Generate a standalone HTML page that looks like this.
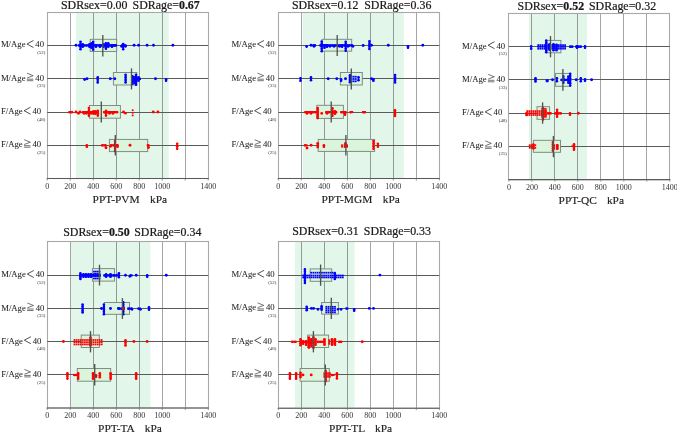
<!DOCTYPE html>
<html><head><meta charset="utf-8"><style>
html,body{margin:0;padding:0;background:#fff;width:677px;height:434px;overflow:hidden}
svg text{font-family:"Liberation Serif", serif}
svg{will-change:transform}
</style></head><body>
<svg width="677" height="434" viewBox="0 0 677 434" style="display:block">
<rect x="0" y="0" width="677" height="434" fill="#ffffff"/>
<g><rect x="76.00" y="12.50" width="92.70" height="166.00" fill="#e2f7ea"/><line x1="70.50" y1="12.50" x2="70.50" y2="178.50" stroke="#a6a6a6" stroke-width="1.0"/><line x1="93.50" y1="12.50" x2="93.50" y2="178.50" stroke="#919b95" stroke-width="1.0"/><line x1="116.50" y1="12.50" x2="116.50" y2="178.50" stroke="#919b95" stroke-width="1.0"/><line x1="139.50" y1="12.50" x2="139.50" y2="178.50" stroke="#919b95" stroke-width="1.0"/><line x1="162.50" y1="12.50" x2="162.50" y2="178.50" stroke="#919b95" stroke-width="1.0"/><line x1="185.50" y1="12.50" x2="185.50" y2="178.50" stroke="#a6a6a6" stroke-width="1.0"/><rect x="47.50" y="12.50" width="161.00" height="166.00" fill="none" stroke="#a8a8a8" stroke-width="1.1"/><line x1="47.20" y1="45.50" x2="208.20" y2="45.50" stroke="#585b59" stroke-width="1"/><line x1="47.20" y1="78.50" x2="208.20" y2="78.50" stroke="#585b59" stroke-width="1"/><line x1="47.20" y1="112.50" x2="208.20" y2="112.50" stroke="#585b59" stroke-width="1"/><line x1="47.20" y1="145.50" x2="208.20" y2="145.50" stroke="#585b59" stroke-width="1"/><line x1="46.70" y1="178.50" x2="208.70" y2="178.50" stroke="#5a5a5a" stroke-width="1.15"/><line x1="47.20" y1="178.50" x2="47.20" y2="180.50" stroke="#777" stroke-width="0.8"/><line x1="70.20" y1="178.50" x2="70.20" y2="180.50" stroke="#777" stroke-width="0.8"/><line x1="93.20" y1="178.50" x2="93.20" y2="180.50" stroke="#777" stroke-width="0.8"/><line x1="116.20" y1="178.50" x2="116.20" y2="180.50" stroke="#777" stroke-width="0.8"/><line x1="139.20" y1="178.50" x2="139.20" y2="180.50" stroke="#777" stroke-width="0.8"/><line x1="162.20" y1="178.50" x2="162.20" y2="180.50" stroke="#777" stroke-width="0.8"/><line x1="185.20" y1="178.50" x2="185.20" y2="180.50" stroke="#777" stroke-width="0.8"/><line x1="208.20" y1="178.50" x2="208.20" y2="180.50" stroke="#777" stroke-width="0.8"/><text x="47.20" y="188.70" font-size="8" text-anchor="middle" fill="#333">0</text><text x="70.20" y="188.70" font-size="8" text-anchor="middle" fill="#333">200</text><text x="93.20" y="188.70" font-size="8" text-anchor="middle" fill="#333">400</text><text x="116.20" y="188.70" font-size="8" text-anchor="middle" fill="#333">600</text><text x="139.20" y="188.70" font-size="8" text-anchor="middle" fill="#333">800</text><text x="162.20" y="188.70" font-size="8" text-anchor="middle" fill="#333">1000</text><text x="208.20" y="188.70" font-size="8" text-anchor="middle" fill="#333">1400</text><rect x="90.20" y="39.30" width="26.50" height="12.20" fill="#daf5db" stroke="#7b887f" stroke-width="0.95"/><circle cx="76.00" cy="45.30" r="1.45" fill="#0000ff"/><rect x="78.00" y="44.30" width="39.00" height="2.1" fill="#0000ff"/><circle cx="79.20" cy="45.50" r="1.2" fill="#0000ff"/><circle cx="81.64" cy="45.50" r="1.2" fill="#0000ff"/><circle cx="84.08" cy="45.50" r="1.2" fill="#0000ff"/><circle cx="86.52" cy="45.50" r="1.2" fill="#0000ff"/><circle cx="88.96" cy="45.50" r="1.2" fill="#0000ff"/><circle cx="91.40" cy="45.50" r="1.2" fill="#0000ff"/><circle cx="93.84" cy="45.50" r="1.2" fill="#0000ff"/><circle cx="96.28" cy="45.50" r="1.2" fill="#0000ff"/><circle cx="98.72" cy="45.50" r="1.2" fill="#0000ff"/><circle cx="101.16" cy="45.50" r="1.2" fill="#0000ff"/><circle cx="103.60" cy="45.50" r="1.2" fill="#0000ff"/><circle cx="106.04" cy="45.50" r="1.2" fill="#0000ff"/><circle cx="108.48" cy="45.50" r="1.2" fill="#0000ff"/><circle cx="110.92" cy="45.50" r="1.2" fill="#0000ff"/><circle cx="113.36" cy="45.50" r="1.2" fill="#0000ff"/><circle cx="115.80" cy="45.50" r="1.2" fill="#0000ff"/><rect x="79.70" y="41.10" width="1.6" height="8.80" fill="#0000ff"/><circle cx="80.50" cy="41.70" r="1.3" fill="#0000ff"/><circle cx="80.50" cy="44.23" r="1.3" fill="#0000ff"/><circle cx="80.50" cy="46.77" r="1.3" fill="#0000ff"/><circle cx="80.50" cy="49.30" r="1.3" fill="#0000ff"/><rect x="81.90" y="43.60" width="1.6" height="3.80" fill="#0000ff"/><circle cx="82.70" cy="44.20" r="1.3" fill="#0000ff"/><circle cx="82.70" cy="46.80" r="1.3" fill="#0000ff"/><rect x="88.70" y="43.60" width="1.6" height="3.80" fill="#0000ff"/><circle cx="89.50" cy="44.20" r="1.3" fill="#0000ff"/><circle cx="89.50" cy="46.80" r="1.3" fill="#0000ff"/><rect x="90.70" y="42.60" width="1.6" height="5.80" fill="#0000ff"/><circle cx="91.50" cy="43.20" r="1.3" fill="#0000ff"/><circle cx="91.50" cy="45.50" r="1.3" fill="#0000ff"/><circle cx="91.50" cy="47.80" r="1.3" fill="#0000ff"/><rect x="92.40" y="41.10" width="1.6" height="9.30" fill="#0000ff"/><circle cx="93.20" cy="41.70" r="1.3" fill="#0000ff"/><circle cx="93.20" cy="43.73" r="1.3" fill="#0000ff"/><circle cx="93.20" cy="45.75" r="1.3" fill="#0000ff"/><circle cx="93.20" cy="47.78" r="1.3" fill="#0000ff"/><circle cx="93.20" cy="49.80" r="1.3" fill="#0000ff"/><rect x="95.20" y="44.60" width="1.6" height="2.80" fill="#0000ff"/><circle cx="96.00" cy="45.20" r="1.3" fill="#0000ff"/><circle cx="96.00" cy="46.80" r="1.3" fill="#0000ff"/><rect x="99.20" y="44.60" width="1.6" height="2.80" fill="#0000ff"/><circle cx="100.00" cy="45.20" r="1.3" fill="#0000ff"/><circle cx="100.00" cy="46.80" r="1.3" fill="#0000ff"/><rect x="102.70" y="43.60" width="1.6" height="3.80" fill="#0000ff"/><circle cx="103.50" cy="44.20" r="1.3" fill="#0000ff"/><circle cx="103.50" cy="46.80" r="1.3" fill="#0000ff"/><rect x="105.10" y="42.60" width="1.6" height="6.80" fill="#0000ff"/><circle cx="105.90" cy="43.20" r="1.3" fill="#0000ff"/><circle cx="105.90" cy="45.07" r="1.3" fill="#0000ff"/><circle cx="105.90" cy="46.93" r="1.3" fill="#0000ff"/><circle cx="105.90" cy="48.80" r="1.3" fill="#0000ff"/><rect x="107.50" y="42.60" width="1.6" height="4.80" fill="#0000ff"/><circle cx="108.30" cy="43.20" r="1.3" fill="#0000ff"/><circle cx="108.30" cy="45.00" r="1.3" fill="#0000ff"/><circle cx="108.30" cy="46.80" r="1.3" fill="#0000ff"/><rect x="111.20" y="44.60" width="1.6" height="2.80" fill="#0000ff"/><circle cx="112.00" cy="45.20" r="1.3" fill="#0000ff"/><circle cx="112.00" cy="46.80" r="1.3" fill="#0000ff"/><rect x="113.70" y="44.60" width="1.6" height="1.80" fill="#0000ff"/><circle cx="114.50" cy="45.20" r="1.3" fill="#0000ff"/><rect x="121.00" y="44.30" width="5.40" height="2.1" fill="#0000ff"/><circle cx="122.20" cy="45.50" r="1.2" fill="#0000ff"/><circle cx="125.20" cy="45.50" r="1.2" fill="#0000ff"/><rect x="122.40" y="43.40" width="1.6" height="6.50" fill="#0000ff"/><circle cx="123.20" cy="44.00" r="1.3" fill="#0000ff"/><circle cx="123.20" cy="46.65" r="1.3" fill="#0000ff"/><circle cx="123.20" cy="49.30" r="1.3" fill="#0000ff"/><rect x="120.70" y="45.60" width="1.6" height="1.80" fill="#0000ff"/><circle cx="121.50" cy="46.20" r="1.3" fill="#0000ff"/><rect x="124.70" y="45.60" width="1.6" height="1.80" fill="#0000ff"/><circle cx="125.50" cy="46.20" r="1.3" fill="#0000ff"/><circle cx="134.10" cy="45.30" r="1.45" fill="#0000ff"/><circle cx="138.60" cy="45.30" r="1.45" fill="#0000ff"/><circle cx="147.10" cy="45.30" r="1.45" fill="#0000ff"/><circle cx="153.50" cy="45.30" r="1.45" fill="#0000ff"/><circle cx="172.90" cy="45.30" r="1.45" fill="#0000ff"/><line x1="102.80" y1="35.10" x2="102.80" y2="56.40" stroke="#4f5450" stroke-width="1.35"/><rect x="113.40" y="72.50" width="23.40" height="12.50" fill="#daf5db" stroke="#7b887f" stroke-width="0.95"/><rect x="83.80" y="78.60" width="1.6" height="2.30" fill="#0000ff"/><circle cx="84.60" cy="79.20" r="1.3" fill="#0000ff"/><circle cx="87.00" cy="78.70" r="1.45" fill="#0000ff"/><rect x="96.90" y="76.70" width="1.6" height="6.30" fill="#0000ff"/><circle cx="97.70" cy="77.30" r="1.3" fill="#0000ff"/><circle cx="97.70" cy="79.85" r="1.3" fill="#0000ff"/><circle cx="97.70" cy="82.40" r="1.3" fill="#0000ff"/><circle cx="110.30" cy="78.70" r="1.45" fill="#0000ff"/><circle cx="114.80" cy="78.70" r="1.45" fill="#0000ff"/><rect x="124.80" y="74.30" width="1.6" height="8.70" fill="#0000ff"/><circle cx="125.60" cy="74.90" r="1.3" fill="#0000ff"/><circle cx="125.60" cy="77.40" r="1.3" fill="#0000ff"/><circle cx="125.60" cy="79.90" r="1.3" fill="#0000ff"/><circle cx="125.60" cy="82.40" r="1.3" fill="#0000ff"/><rect x="131.00" y="77.70" width="10.00" height="2.1" fill="#0000ff"/><circle cx="132.20" cy="78.90" r="1.2" fill="#0000ff"/><circle cx="134.73" cy="78.90" r="1.2" fill="#0000ff"/><circle cx="137.27" cy="78.90" r="1.2" fill="#0000ff"/><circle cx="139.80" cy="78.90" r="1.2" fill="#0000ff"/><rect x="131.70" y="75.60" width="1.6" height="8.80" fill="#0000ff"/><circle cx="132.50" cy="76.20" r="1.3" fill="#0000ff"/><circle cx="132.50" cy="78.73" r="1.3" fill="#0000ff"/><circle cx="132.50" cy="81.27" r="1.3" fill="#0000ff"/><circle cx="132.50" cy="83.80" r="1.3" fill="#0000ff"/><rect x="133.70" y="76.60" width="1.6" height="6.80" fill="#0000ff"/><circle cx="134.50" cy="77.20" r="1.3" fill="#0000ff"/><circle cx="134.50" cy="79.07" r="1.3" fill="#0000ff"/><circle cx="134.50" cy="80.93" r="1.3" fill="#0000ff"/><circle cx="134.50" cy="82.80" r="1.3" fill="#0000ff"/><rect x="135.20" y="74.10" width="1.6" height="11.30" fill="#0000ff"/><circle cx="136.00" cy="74.70" r="1.3" fill="#0000ff"/><circle cx="136.00" cy="76.72" r="1.3" fill="#0000ff"/><circle cx="136.00" cy="78.74" r="1.3" fill="#0000ff"/><circle cx="136.00" cy="80.76" r="1.3" fill="#0000ff"/><circle cx="136.00" cy="82.78" r="1.3" fill="#0000ff"/><circle cx="136.00" cy="84.80" r="1.3" fill="#0000ff"/><rect x="137.70" y="76.60" width="1.6" height="4.80" fill="#0000ff"/><circle cx="138.50" cy="77.20" r="1.3" fill="#0000ff"/><circle cx="138.50" cy="79.00" r="1.3" fill="#0000ff"/><circle cx="138.50" cy="80.80" r="1.3" fill="#0000ff"/><circle cx="155.50" cy="78.70" r="1.45" fill="#0000ff"/><rect x="165.30" y="78.60" width="1.6" height="2.80" fill="#0000ff"/><circle cx="166.10" cy="79.20" r="1.3" fill="#0000ff"/><circle cx="166.10" cy="80.80" r="1.3" fill="#0000ff"/><line x1="131.50" y1="68.40" x2="131.50" y2="89.40" stroke="#4f5450" stroke-width="1.35"/><rect x="89.40" y="105.50" width="31.00" height="12.70" fill="#daf5db" stroke="#7b887f" stroke-width="0.95"/><rect x="68.50" y="111.00" width="4.50" height="2.1" fill="#ff0000"/><circle cx="69.70" cy="112.20" r="1.2" fill="#ff0000"/><circle cx="71.80" cy="112.20" r="1.2" fill="#ff0000"/><circle cx="76.00" cy="112.00" r="1.45" fill="#ff0000"/><rect x="77.70" y="112.60" width="1.6" height="1.80" fill="#ff0000"/><circle cx="78.50" cy="113.20" r="1.3" fill="#ff0000"/><circle cx="80.00" cy="112.00" r="1.45" fill="#ff0000"/><rect x="81.80" y="111.00" width="16.90" height="2.1" fill="#ff0000"/><circle cx="83.00" cy="112.20" r="1.2" fill="#ff0000"/><circle cx="85.42" cy="112.20" r="1.2" fill="#ff0000"/><circle cx="87.83" cy="112.20" r="1.2" fill="#ff0000"/><circle cx="90.25" cy="112.20" r="1.2" fill="#ff0000"/><circle cx="92.67" cy="112.20" r="1.2" fill="#ff0000"/><circle cx="95.08" cy="112.20" r="1.2" fill="#ff0000"/><circle cx="97.50" cy="112.20" r="1.2" fill="#ff0000"/><rect x="83.20" y="112.60" width="1.6" height="1.80" fill="#ff0000"/><circle cx="84.00" cy="113.20" r="1.3" fill="#ff0000"/><rect x="85.70" y="112.60" width="1.6" height="1.80" fill="#ff0000"/><circle cx="86.50" cy="113.20" r="1.3" fill="#ff0000"/><rect x="88.10" y="107.50" width="1.6" height="8.90" fill="#ff0000"/><circle cx="88.90" cy="108.10" r="1.3" fill="#ff0000"/><circle cx="88.90" cy="110.67" r="1.3" fill="#ff0000"/><circle cx="88.90" cy="113.23" r="1.3" fill="#ff0000"/><circle cx="88.90" cy="115.80" r="1.3" fill="#ff0000"/><rect x="90.20" y="112.60" width="1.6" height="1.80" fill="#ff0000"/><circle cx="91.00" cy="113.20" r="1.3" fill="#ff0000"/><rect x="92.70" y="110.60" width="1.6" height="3.80" fill="#ff0000"/><circle cx="93.50" cy="111.20" r="1.3" fill="#ff0000"/><circle cx="93.50" cy="113.80" r="1.3" fill="#ff0000"/><rect x="94.70" y="110.60" width="1.6" height="3.80" fill="#ff0000"/><circle cx="95.50" cy="111.20" r="1.3" fill="#ff0000"/><circle cx="95.50" cy="113.80" r="1.3" fill="#ff0000"/><rect x="97.00" y="110.10" width="1.6" height="6.10" fill="#ff0000"/><circle cx="97.80" cy="110.70" r="1.3" fill="#ff0000"/><circle cx="97.80" cy="113.15" r="1.3" fill="#ff0000"/><circle cx="97.80" cy="115.60" r="1.3" fill="#ff0000"/><rect x="103.10" y="111.00" width="15.10" height="2.1" fill="#ff0000"/><circle cx="104.30" cy="112.20" r="1.2" fill="#ff0000"/><circle cx="106.84" cy="112.20" r="1.2" fill="#ff0000"/><circle cx="109.38" cy="112.20" r="1.2" fill="#ff0000"/><circle cx="111.92" cy="112.20" r="1.2" fill="#ff0000"/><circle cx="114.46" cy="112.20" r="1.2" fill="#ff0000"/><circle cx="117.00" cy="112.20" r="1.2" fill="#ff0000"/><rect x="105.20" y="110.10" width="1.6" height="6.10" fill="#ff0000"/><circle cx="106.00" cy="110.70" r="1.3" fill="#ff0000"/><circle cx="106.00" cy="113.15" r="1.3" fill="#ff0000"/><circle cx="106.00" cy="115.60" r="1.3" fill="#ff0000"/><rect x="108.70" y="112.60" width="1.6" height="1.80" fill="#ff0000"/><circle cx="109.50" cy="113.20" r="1.3" fill="#ff0000"/><rect x="112.10" y="112.60" width="1.6" height="1.80" fill="#ff0000"/><circle cx="112.90" cy="113.20" r="1.3" fill="#ff0000"/><circle cx="123.50" cy="112.00" r="1.45" fill="#ff0000"/><rect x="124.70" y="112.60" width="1.6" height="1.30" fill="#ff0000"/><circle cx="125.50" cy="113.20" r="1.3" fill="#ff0000"/><rect x="131.82" y="109.33" width="1.75" height="1.75" fill="#ff0000"/><rect x="131.82" y="111.92" width="1.75" height="1.75" fill="#ff0000"/><rect x="131.82" y="114.52" width="1.75" height="1.75" fill="#ff0000"/><circle cx="153.20" cy="112.00" r="1.45" fill="#ff0000"/><circle cx="157.90" cy="112.00" r="1.45" fill="#ff0000"/><line x1="101.30" y1="101.40" x2="101.30" y2="122.40" stroke="#4f5450" stroke-width="1.35"/><rect x="109.40" y="139.40" width="38.30" height="12.20" fill="#daf5db" stroke="#7b887f" stroke-width="0.95"/><rect x="86.00" y="144.60" width="1.6" height="2.80" fill="#ff0000"/><circle cx="86.80" cy="145.20" r="1.3" fill="#ff0000"/><circle cx="86.80" cy="146.80" r="1.3" fill="#ff0000"/><rect x="101.20" y="144.20" width="5.30" height="2.1" fill="#ff0000"/><circle cx="102.40" cy="145.40" r="1.2" fill="#ff0000"/><circle cx="105.30" cy="145.40" r="1.2" fill="#ff0000"/><circle cx="106.00" cy="147.80" r="1.45" fill="#ff0000"/><rect x="109.70" y="145.60" width="1.6" height="1.80" fill="#ff0000"/><circle cx="110.50" cy="146.20" r="1.3" fill="#ff0000"/><rect x="110.00" y="144.20" width="8.00" height="2.1" fill="#ff0000"/><circle cx="111.20" cy="145.40" r="1.2" fill="#ff0000"/><circle cx="114.00" cy="145.40" r="1.2" fill="#ff0000"/><circle cx="116.80" cy="145.40" r="1.2" fill="#ff0000"/><rect x="114.30" y="140.50" width="1.6" height="11.20" fill="#ff0000"/><circle cx="115.10" cy="141.10" r="1.3" fill="#ff0000"/><circle cx="115.10" cy="143.10" r="1.3" fill="#ff0000"/><circle cx="115.10" cy="145.10" r="1.3" fill="#ff0000"/><circle cx="115.10" cy="147.10" r="1.3" fill="#ff0000"/><circle cx="115.10" cy="149.10" r="1.3" fill="#ff0000"/><circle cx="115.10" cy="151.10" r="1.3" fill="#ff0000"/><rect x="116.70" y="144.60" width="1.6" height="2.80" fill="#ff0000"/><circle cx="117.50" cy="145.20" r="1.3" fill="#ff0000"/><circle cx="117.50" cy="146.80" r="1.3" fill="#ff0000"/><circle cx="130.00" cy="145.20" r="1.45" fill="#ff0000"/><rect x="146.80" y="144.20" width="2.70" height="2.1" fill="#ff0000"/><circle cx="148.00" cy="145.40" r="1.2" fill="#ff0000"/><circle cx="148.50" cy="147.50" r="1.45" fill="#ff0000"/><rect x="176.40" y="143.10" width="1.6" height="6.30" fill="#ff0000"/><circle cx="177.20" cy="143.70" r="1.3" fill="#ff0000"/><circle cx="177.20" cy="146.25" r="1.3" fill="#ff0000"/><circle cx="177.20" cy="148.80" r="1.3" fill="#ff0000"/><line x1="115.30" y1="135.00" x2="115.30" y2="155.40" stroke="#4f5450" stroke-width="1.35"/><text x="61.0" y="9.3" font-size="11.9" fill="#1a1a1a" stroke="#1a1a1a" stroke-width="0.22">SDRsex=0.00</text><text x="132.6" y="9.3" font-size="11.9" fill="#1a1a1a" stroke="#1a1a1a" stroke-width="0.22">SDRage=<tspan font-weight="bold">0.67</tspan></text><text x="92.6" y="203.1" font-size="11.4" fill="#222" stroke="#222" stroke-width="0.15">PPT-PVM</text><text x="150.0" y="203.1" font-size="11.4" fill="#222" stroke="#222" stroke-width="0.15">kPa</text><text x="0.90" y="47.30" font-size="8.7" fill="#222" stroke="#333" stroke-width="0.05">M/Age</text><path d="M33.45,40.50 L26.95,44.00 L33.45,47.50" fill="none" stroke="#333" stroke-width="0.85"/><text x="35.35" y="47.30" font-size="8.7" fill="#222" stroke="#333" stroke-width="0.05">40</text><text x="45.30" y="54.00" font-size="4.9" text-anchor="end" fill="#333">(52)</text><text x="0.90" y="80.70" font-size="8.7" fill="#222" stroke="#333" stroke-width="0.05">M/Age</text><path d="M27.05,73.20 L33.15,75.70 L27.05,78.00" fill="none" stroke="#3a3a3a" stroke-width="0.7"/><path d="M26.85,79.20 H33.35 M26.85,80.70 H33.35" fill="none" stroke="#3a3a3a" stroke-width="0.7"/><text x="35.35" y="80.70" font-size="8.7" fill="#222" stroke="#333" stroke-width="0.05">40</text><text x="45.30" y="87.40" font-size="4.9" text-anchor="end" fill="#333">(33)</text><text x="0.90" y="114.00" font-size="8.7" fill="#222" stroke="#333" stroke-width="0.05">F/Age</text><path d="M30.55,107.20 L24.05,110.70 L30.55,114.20" fill="none" stroke="#333" stroke-width="0.85"/><text x="32.45" y="114.00" font-size="8.7" fill="#222" stroke="#333" stroke-width="0.05">40</text><text x="45.30" y="120.70" font-size="4.9" text-anchor="end" fill="#333">(48)</text><text x="0.90" y="147.20" font-size="8.7" fill="#222" stroke="#333" stroke-width="0.05">F/Age</text><path d="M24.15,139.70 L30.25,142.20 L24.15,144.50" fill="none" stroke="#3a3a3a" stroke-width="0.7"/><path d="M23.95,145.70 H30.45 M23.95,147.20 H30.45" fill="none" stroke="#3a3a3a" stroke-width="0.7"/><text x="32.45" y="147.20" font-size="8.7" fill="#222" stroke="#333" stroke-width="0.05">40</text><text x="45.30" y="153.90" font-size="4.9" text-anchor="end" fill="#333">(25)</text></g>
<g><rect x="302.70" y="12.50" width="101.10" height="166.00" fill="#e2f7ea"/><line x1="301.50" y1="12.50" x2="301.50" y2="178.50" stroke="#a6a6a6" stroke-width="1.0"/><line x1="324.50" y1="12.50" x2="324.50" y2="178.50" stroke="#919b95" stroke-width="1.0"/><line x1="347.50" y1="12.50" x2="347.50" y2="178.50" stroke="#919b95" stroke-width="1.0"/><line x1="370.50" y1="12.50" x2="370.50" y2="178.50" stroke="#919b95" stroke-width="1.0"/><line x1="393.50" y1="12.50" x2="393.50" y2="178.50" stroke="#919b95" stroke-width="1.0"/><line x1="416.50" y1="12.50" x2="416.50" y2="178.50" stroke="#a6a6a6" stroke-width="1.0"/><rect x="278.50" y="12.50" width="161.00" height="166.00" fill="none" stroke="#a8a8a8" stroke-width="1.1"/><line x1="278.30" y1="45.50" x2="439.30" y2="45.50" stroke="#585b59" stroke-width="1"/><line x1="278.30" y1="78.50" x2="439.30" y2="78.50" stroke="#585b59" stroke-width="1"/><line x1="278.30" y1="112.50" x2="439.30" y2="112.50" stroke="#585b59" stroke-width="1"/><line x1="278.30" y1="145.50" x2="439.30" y2="145.50" stroke="#585b59" stroke-width="1"/><line x1="277.80" y1="178.50" x2="439.80" y2="178.50" stroke="#5a5a5a" stroke-width="1.15"/><line x1="278.30" y1="178.50" x2="278.30" y2="180.50" stroke="#777" stroke-width="0.8"/><line x1="301.30" y1="178.50" x2="301.30" y2="180.50" stroke="#777" stroke-width="0.8"/><line x1="324.30" y1="178.50" x2="324.30" y2="180.50" stroke="#777" stroke-width="0.8"/><line x1="347.30" y1="178.50" x2="347.30" y2="180.50" stroke="#777" stroke-width="0.8"/><line x1="370.30" y1="178.50" x2="370.30" y2="180.50" stroke="#777" stroke-width="0.8"/><line x1="393.30" y1="178.50" x2="393.30" y2="180.50" stroke="#777" stroke-width="0.8"/><line x1="416.30" y1="178.50" x2="416.30" y2="180.50" stroke="#777" stroke-width="0.8"/><line x1="439.30" y1="178.50" x2="439.30" y2="180.50" stroke="#777" stroke-width="0.8"/><text x="278.30" y="188.70" font-size="8" text-anchor="middle" fill="#333">0</text><text x="301.30" y="188.70" font-size="8" text-anchor="middle" fill="#333">200</text><text x="324.30" y="188.70" font-size="8" text-anchor="middle" fill="#333">400</text><text x="347.30" y="188.70" font-size="8" text-anchor="middle" fill="#333">600</text><text x="370.30" y="188.70" font-size="8" text-anchor="middle" fill="#333">800</text><text x="393.30" y="188.70" font-size="8" text-anchor="middle" fill="#333">1000</text><text x="439.30" y="188.70" font-size="8" text-anchor="middle" fill="#333">1400</text><rect x="322.00" y="39.30" width="29.70" height="11.80" fill="#daf5db" stroke="#7b887f" stroke-width="0.95"/><rect x="305.80" y="45.60" width="1.6" height="2.30" fill="#0000ff"/><circle cx="306.60" cy="46.20" r="1.3" fill="#0000ff"/><circle cx="311.00" cy="45.30" r="1.45" fill="#0000ff"/><rect x="312.40" y="44.30" width="3.60" height="2.1" fill="#0000ff"/><circle cx="313.60" cy="45.50" r="1.2" fill="#0000ff"/><circle cx="314.80" cy="45.50" r="1.2" fill="#0000ff"/><rect x="313.20" y="45.60" width="1.6" height="1.80" fill="#0000ff"/><circle cx="314.00" cy="46.20" r="1.3" fill="#0000ff"/><rect x="319.50" y="44.30" width="33.70" height="2.1" fill="#0000ff"/><circle cx="320.70" cy="45.50" r="1.2" fill="#0000ff"/><circle cx="323.11" cy="45.50" r="1.2" fill="#0000ff"/><circle cx="325.52" cy="45.50" r="1.2" fill="#0000ff"/><circle cx="327.92" cy="45.50" r="1.2" fill="#0000ff"/><circle cx="330.33" cy="45.50" r="1.2" fill="#0000ff"/><circle cx="332.74" cy="45.50" r="1.2" fill="#0000ff"/><circle cx="335.15" cy="45.50" r="1.2" fill="#0000ff"/><circle cx="337.55" cy="45.50" r="1.2" fill="#0000ff"/><circle cx="339.96" cy="45.50" r="1.2" fill="#0000ff"/><circle cx="342.37" cy="45.50" r="1.2" fill="#0000ff"/><circle cx="344.78" cy="45.50" r="1.2" fill="#0000ff"/><circle cx="347.18" cy="45.50" r="1.2" fill="#0000ff"/><circle cx="349.59" cy="45.50" r="1.2" fill="#0000ff"/><circle cx="352.00" cy="45.50" r="1.2" fill="#0000ff"/><rect x="320.90" y="41.00" width="1.6" height="10.80" fill="#0000ff"/><circle cx="321.70" cy="41.60" r="1.3" fill="#0000ff"/><circle cx="321.70" cy="44.00" r="1.3" fill="#0000ff"/><circle cx="321.70" cy="46.40" r="1.3" fill="#0000ff"/><circle cx="321.70" cy="48.80" r="1.3" fill="#0000ff"/><circle cx="321.70" cy="51.20" r="1.3" fill="#0000ff"/><rect x="323.70" y="44.60" width="1.6" height="3.80" fill="#0000ff"/><circle cx="324.50" cy="45.20" r="1.3" fill="#0000ff"/><circle cx="324.50" cy="47.80" r="1.3" fill="#0000ff"/><rect x="326.20" y="44.60" width="1.6" height="2.80" fill="#0000ff"/><circle cx="327.00" cy="45.20" r="1.3" fill="#0000ff"/><circle cx="327.00" cy="46.80" r="1.3" fill="#0000ff"/><rect x="329.20" y="45.60" width="1.6" height="1.80" fill="#0000ff"/><circle cx="330.00" cy="46.20" r="1.3" fill="#0000ff"/><rect x="333.20" y="45.60" width="1.6" height="1.80" fill="#0000ff"/><circle cx="334.00" cy="46.20" r="1.3" fill="#0000ff"/><rect x="338.70" y="45.60" width="1.6" height="1.80" fill="#0000ff"/><circle cx="339.50" cy="46.20" r="1.3" fill="#0000ff"/><rect x="341.20" y="44.60" width="1.6" height="2.80" fill="#0000ff"/><circle cx="342.00" cy="45.20" r="1.3" fill="#0000ff"/><circle cx="342.00" cy="46.80" r="1.3" fill="#0000ff"/><rect x="344.90" y="41.10" width="1.6" height="10.30" fill="#0000ff"/><circle cx="345.70" cy="41.70" r="1.3" fill="#0000ff"/><circle cx="345.70" cy="43.98" r="1.3" fill="#0000ff"/><circle cx="345.70" cy="46.25" r="1.3" fill="#0000ff"/><circle cx="345.70" cy="48.53" r="1.3" fill="#0000ff"/><circle cx="345.70" cy="50.80" r="1.3" fill="#0000ff"/><rect x="347.20" y="45.60" width="1.6" height="1.80" fill="#0000ff"/><circle cx="348.00" cy="46.20" r="1.3" fill="#0000ff"/><rect x="352.20" y="45.60" width="1.6" height="1.80" fill="#0000ff"/><circle cx="353.00" cy="46.20" r="1.3" fill="#0000ff"/><rect x="361.90" y="44.30" width="2.50" height="2.1" fill="#0000ff"/><circle cx="363.10" cy="45.50" r="1.2" fill="#0000ff"/><rect x="368.60" y="40.80" width="1.6" height="8.80" fill="#0000ff"/><circle cx="369.40" cy="41.40" r="1.3" fill="#0000ff"/><circle cx="369.40" cy="43.93" r="1.3" fill="#0000ff"/><circle cx="369.40" cy="46.47" r="1.3" fill="#0000ff"/><circle cx="369.40" cy="49.00" r="1.3" fill="#0000ff"/><circle cx="371.50" cy="45.30" r="1.45" fill="#0000ff"/><circle cx="388.30" cy="45.30" r="1.45" fill="#0000ff"/><rect x="407.20" y="45.60" width="1.6" height="2.80" fill="#0000ff"/><circle cx="408.00" cy="46.20" r="1.3" fill="#0000ff"/><circle cx="408.00" cy="47.80" r="1.3" fill="#0000ff"/><circle cx="422.80" cy="45.30" r="1.45" fill="#0000ff"/><line x1="337.20" y1="35.10" x2="337.20" y2="55.90" stroke="#4f5450" stroke-width="1.35"/><rect x="340.40" y="72.50" width="21.90" height="12.50" fill="#daf5db" stroke="#7b887f" stroke-width="0.95"/><rect x="299.70" y="77.60" width="1.6" height="3.80" fill="#0000ff"/><circle cx="300.50" cy="78.20" r="1.3" fill="#0000ff"/><circle cx="300.50" cy="80.80" r="1.3" fill="#0000ff"/><rect x="310.20" y="76.60" width="1.6" height="4.20" fill="#0000ff"/><circle cx="311.00" cy="77.20" r="1.3" fill="#0000ff"/><circle cx="311.00" cy="80.20" r="1.3" fill="#0000ff"/><circle cx="328.20" cy="78.70" r="1.45" fill="#0000ff"/><circle cx="336.80" cy="78.70" r="1.45" fill="#0000ff"/><rect x="340.30" y="78.60" width="1.6" height="2.80" fill="#0000ff"/><circle cx="341.10" cy="79.20" r="1.3" fill="#0000ff"/><circle cx="341.10" cy="80.80" r="1.3" fill="#0000ff"/><circle cx="345.50" cy="78.70" r="1.45" fill="#0000ff"/><rect x="349.20" y="74.60" width="1.6" height="8.30" fill="#0000ff"/><circle cx="350.00" cy="75.20" r="1.3" fill="#0000ff"/><circle cx="350.00" cy="77.57" r="1.3" fill="#0000ff"/><circle cx="350.00" cy="79.93" r="1.3" fill="#0000ff"/><circle cx="350.00" cy="82.30" r="1.3" fill="#0000ff"/><rect x="348.82" y="75.83" width="1.75" height="1.75" fill="#0000ff"/><rect x="348.82" y="78.12" width="1.75" height="1.75" fill="#0000ff"/><rect x="348.82" y="80.42" width="1.75" height="1.75" fill="#0000ff"/><rect x="350.86" y="75.83" width="1.75" height="1.75" fill="#0000ff"/><rect x="350.86" y="78.12" width="1.75" height="1.75" fill="#0000ff"/><rect x="350.86" y="80.42" width="1.75" height="1.75" fill="#0000ff"/><rect x="352.89" y="75.83" width="1.75" height="1.75" fill="#0000ff"/><rect x="352.89" y="78.12" width="1.75" height="1.75" fill="#0000ff"/><rect x="352.89" y="80.42" width="1.75" height="1.75" fill="#0000ff"/><rect x="354.93" y="75.83" width="1.75" height="1.75" fill="#0000ff"/><rect x="354.93" y="78.12" width="1.75" height="1.75" fill="#0000ff"/><rect x="354.93" y="80.42" width="1.75" height="1.75" fill="#0000ff"/><rect x="357.70" y="76.60" width="1.6" height="4.30" fill="#0000ff"/><circle cx="358.50" cy="77.20" r="1.3" fill="#0000ff"/><circle cx="358.50" cy="80.30" r="1.3" fill="#0000ff"/><circle cx="371.60" cy="78.70" r="1.45" fill="#0000ff"/><rect x="372.60" y="78.60" width="1.6" height="2.80" fill="#0000ff"/><circle cx="373.40" cy="79.20" r="1.3" fill="#0000ff"/><circle cx="373.40" cy="80.80" r="1.3" fill="#0000ff"/><rect x="394.30" y="74.50" width="1.6" height="8.50" fill="#0000ff"/><circle cx="395.10" cy="75.10" r="1.3" fill="#0000ff"/><circle cx="395.10" cy="77.53" r="1.3" fill="#0000ff"/><circle cx="395.10" cy="79.97" r="1.3" fill="#0000ff"/><circle cx="395.10" cy="82.40" r="1.3" fill="#0000ff"/><line x1="351.30" y1="68.40" x2="351.30" y2="89.40" stroke="#4f5450" stroke-width="1.35"/><rect x="316.80" y="105.30" width="26.60" height="13.10" fill="#daf5db" stroke="#7b887f" stroke-width="0.95"/><rect x="304.40" y="111.00" width="12.40" height="2.1" fill="#ff0000"/><circle cx="305.60" cy="112.20" r="1.2" fill="#ff0000"/><circle cx="308.10" cy="112.20" r="1.2" fill="#ff0000"/><circle cx="310.60" cy="112.20" r="1.2" fill="#ff0000"/><circle cx="313.10" cy="112.20" r="1.2" fill="#ff0000"/><circle cx="315.60" cy="112.20" r="1.2" fill="#ff0000"/><rect x="306.20" y="112.60" width="1.6" height="1.80" fill="#ff0000"/><circle cx="307.00" cy="113.20" r="1.3" fill="#ff0000"/><rect x="310.20" y="112.60" width="1.6" height="1.80" fill="#ff0000"/><circle cx="311.00" cy="113.20" r="1.3" fill="#ff0000"/><rect x="316.90" y="107.50" width="1.6" height="11.20" fill="#ff0000"/><circle cx="317.70" cy="108.10" r="1.3" fill="#ff0000"/><circle cx="317.70" cy="110.10" r="1.3" fill="#ff0000"/><circle cx="317.70" cy="112.10" r="1.3" fill="#ff0000"/><circle cx="317.70" cy="114.10" r="1.3" fill="#ff0000"/><circle cx="317.70" cy="116.10" r="1.3" fill="#ff0000"/><circle cx="317.70" cy="118.10" r="1.3" fill="#ff0000"/><rect x="320.90" y="112.60" width="1.6" height="1.80" fill="#ff0000"/><circle cx="321.70" cy="113.20" r="1.3" fill="#ff0000"/><rect x="325.30" y="111.00" width="11.90" height="2.1" fill="#ff0000"/><circle cx="326.50" cy="112.20" r="1.2" fill="#ff0000"/><circle cx="328.88" cy="112.20" r="1.2" fill="#ff0000"/><circle cx="331.25" cy="112.20" r="1.2" fill="#ff0000"/><circle cx="333.62" cy="112.20" r="1.2" fill="#ff0000"/><circle cx="336.00" cy="112.20" r="1.2" fill="#ff0000"/><rect x="326.20" y="112.60" width="1.6" height="1.80" fill="#ff0000"/><circle cx="327.00" cy="113.20" r="1.3" fill="#ff0000"/><rect x="331.60" y="107.60" width="1.6" height="8.80" fill="#ff0000"/><circle cx="332.40" cy="108.20" r="1.3" fill="#ff0000"/><circle cx="332.40" cy="110.73" r="1.3" fill="#ff0000"/><circle cx="332.40" cy="113.27" r="1.3" fill="#ff0000"/><circle cx="332.40" cy="115.80" r="1.3" fill="#ff0000"/><rect x="334.20" y="110.60" width="1.6" height="3.80" fill="#ff0000"/><circle cx="335.00" cy="111.20" r="1.3" fill="#ff0000"/><circle cx="335.00" cy="113.80" r="1.3" fill="#ff0000"/><rect x="340.30" y="111.00" width="6.20" height="2.1" fill="#ff0000"/><circle cx="341.50" cy="112.20" r="1.2" fill="#ff0000"/><circle cx="343.40" cy="112.20" r="1.2" fill="#ff0000"/><circle cx="345.30" cy="112.20" r="1.2" fill="#ff0000"/><rect x="344.20" y="112.60" width="1.6" height="2.80" fill="#ff0000"/><circle cx="345.00" cy="113.20" r="1.3" fill="#ff0000"/><circle cx="345.00" cy="114.80" r="1.3" fill="#ff0000"/><rect x="349.60" y="111.00" width="3.60" height="2.1" fill="#ff0000"/><circle cx="350.80" cy="112.20" r="1.2" fill="#ff0000"/><rect x="362.00" y="111.00" width="4.00" height="2.1" fill="#ff0000"/><circle cx="363.20" cy="112.20" r="1.2" fill="#ff0000"/><circle cx="364.80" cy="112.20" r="1.2" fill="#ff0000"/><rect x="394.20" y="109.70" width="1.6" height="6.80" fill="#ff0000"/><circle cx="395.00" cy="110.30" r="1.3" fill="#ff0000"/><circle cx="395.00" cy="112.17" r="1.3" fill="#ff0000"/><circle cx="395.00" cy="114.03" r="1.3" fill="#ff0000"/><circle cx="395.00" cy="115.90" r="1.3" fill="#ff0000"/><line x1="331.20" y1="101.40" x2="331.20" y2="122.40" stroke="#4f5450" stroke-width="1.35"/><rect x="318.20" y="139.40" width="56.40" height="12.00" fill="#daf5db" stroke="#7b887f" stroke-width="0.95"/><rect x="304.00" y="144.20" width="3.50" height="2.1" fill="#ff0000"/><circle cx="305.20" cy="145.40" r="1.2" fill="#ff0000"/><circle cx="307.00" cy="148.00" r="1.45" fill="#ff0000"/><circle cx="311.10" cy="145.20" r="1.45" fill="#ff0000"/><rect x="316.90" y="142.70" width="1.6" height="5.00" fill="#ff0000"/><circle cx="317.70" cy="143.30" r="1.3" fill="#ff0000"/><circle cx="317.70" cy="145.20" r="1.3" fill="#ff0000"/><circle cx="317.70" cy="147.10" r="1.3" fill="#ff0000"/><rect x="323.10" y="144.60" width="1.6" height="2.80" fill="#ff0000"/><circle cx="323.90" cy="145.20" r="1.3" fill="#ff0000"/><circle cx="323.90" cy="146.80" r="1.3" fill="#ff0000"/><rect x="341.12" y="144.32" width="1.75" height="1.75" fill="#ff0000"/><rect x="341.12" y="145.92" width="1.75" height="1.75" fill="#ff0000"/><rect x="343.68" y="144.32" width="1.75" height="1.75" fill="#ff0000"/><rect x="343.68" y="145.92" width="1.75" height="1.75" fill="#ff0000"/><rect x="346.23" y="144.32" width="1.75" height="1.75" fill="#ff0000"/><rect x="346.23" y="145.92" width="1.75" height="1.75" fill="#ff0000"/><rect x="344.70" y="142.60" width="1.6" height="4.80" fill="#ff0000"/><circle cx="345.50" cy="143.20" r="1.3" fill="#ff0000"/><circle cx="345.50" cy="145.00" r="1.3" fill="#ff0000"/><circle cx="345.50" cy="146.80" r="1.3" fill="#ff0000"/><rect x="372.70" y="140.50" width="1.6" height="8.90" fill="#ff0000"/><circle cx="373.50" cy="141.10" r="1.3" fill="#ff0000"/><circle cx="373.50" cy="143.67" r="1.3" fill="#ff0000"/><circle cx="373.50" cy="146.23" r="1.3" fill="#ff0000"/><circle cx="373.50" cy="148.80" r="1.3" fill="#ff0000"/><rect x="377.10" y="143.10" width="1.6" height="4.30" fill="#ff0000"/><circle cx="377.90" cy="143.70" r="1.3" fill="#ff0000"/><circle cx="377.90" cy="146.80" r="1.3" fill="#ff0000"/><line x1="345.90" y1="135.00" x2="345.90" y2="155.40" stroke="#4f5450" stroke-width="1.35"/><text x="291.9" y="9.3" font-size="11.9" fill="#1a1a1a" stroke="#1a1a1a" stroke-width="0.22">SDRsex=0.12</text><text x="364.2" y="9.3" font-size="11.9" fill="#1a1a1a" stroke="#1a1a1a" stroke-width="0.22">SDRage=0.36</text><text x="321.5" y="203.1" font-size="11.4" fill="#222" stroke="#222" stroke-width="0.15">PPT-MGM</text><text x="382.8" y="203.1" font-size="11.4" fill="#222" stroke="#222" stroke-width="0.15">kPa</text><text x="231.40" y="47.30" font-size="8.7" fill="#222" stroke="#333" stroke-width="0.05">M/Age</text><path d="M263.95,40.50 L257.45,44.00 L263.95,47.50" fill="none" stroke="#333" stroke-width="0.85"/><text x="265.85" y="47.30" font-size="8.7" fill="#222" stroke="#333" stroke-width="0.05">40</text><text x="276.40" y="54.00" font-size="4.9" text-anchor="end" fill="#333">(52)</text><text x="231.40" y="80.70" font-size="8.7" fill="#222" stroke="#333" stroke-width="0.05">M/Age</text><path d="M257.55,73.20 L263.65,75.70 L257.55,78.00" fill="none" stroke="#3a3a3a" stroke-width="0.7"/><path d="M257.35,79.20 H263.85 M257.35,80.70 H263.85" fill="none" stroke="#3a3a3a" stroke-width="0.7"/><text x="265.85" y="80.70" font-size="8.7" fill="#222" stroke="#333" stroke-width="0.05">40</text><text x="276.40" y="87.40" font-size="4.9" text-anchor="end" fill="#333">(33)</text><text x="231.40" y="114.00" font-size="8.7" fill="#222" stroke="#333" stroke-width="0.05">F/Age</text><path d="M261.05,107.20 L254.55,110.70 L261.05,114.20" fill="none" stroke="#333" stroke-width="0.85"/><text x="262.95" y="114.00" font-size="8.7" fill="#222" stroke="#333" stroke-width="0.05">40</text><text x="276.40" y="120.70" font-size="4.9" text-anchor="end" fill="#333">(48)</text><text x="231.40" y="147.20" font-size="8.7" fill="#222" stroke="#333" stroke-width="0.05">F/Age</text><path d="M254.65,139.70 L260.75,142.20 L254.65,144.50" fill="none" stroke="#3a3a3a" stroke-width="0.7"/><path d="M254.45,145.70 H260.95 M254.45,147.20 H260.95" fill="none" stroke="#3a3a3a" stroke-width="0.7"/><text x="262.95" y="147.20" font-size="8.7" fill="#222" stroke="#333" stroke-width="0.05">40</text><text x="276.40" y="153.90" font-size="4.9" text-anchor="end" fill="#333">(25)</text></g>
<g><rect x="528.90" y="13.20" width="58.00" height="166.40" fill="#e2f7ea"/><line x1="531.50" y1="13.20" x2="531.50" y2="179.60" stroke="#919b95" stroke-width="1.0"/><line x1="554.50" y1="13.20" x2="554.50" y2="179.60" stroke="#919b95" stroke-width="1.0"/><line x1="577.50" y1="13.20" x2="577.50" y2="179.60" stroke="#919b95" stroke-width="1.0"/><line x1="600.50" y1="13.20" x2="600.50" y2="179.60" stroke="#a6a6a6" stroke-width="1.0"/><line x1="623.50" y1="13.20" x2="623.50" y2="179.60" stroke="#a6a6a6" stroke-width="1.0"/><line x1="646.50" y1="13.20" x2="646.50" y2="179.60" stroke="#a6a6a6" stroke-width="1.0"/><rect x="508.50" y="13.50" width="161.00" height="166.10" fill="none" stroke="#a8a8a8" stroke-width="1.1"/><line x1="508.90" y1="46.50" x2="669.80" y2="46.50" stroke="#585b59" stroke-width="1"/><line x1="508.90" y1="79.50" x2="669.80" y2="79.50" stroke="#585b59" stroke-width="1"/><line x1="508.90" y1="113.50" x2="669.80" y2="113.50" stroke="#585b59" stroke-width="1"/><line x1="508.90" y1="146.50" x2="669.80" y2="146.50" stroke="#585b59" stroke-width="1"/><line x1="508.40" y1="179.60" x2="670.30" y2="179.60" stroke="#5a5a5a" stroke-width="1.15"/><line x1="508.90" y1="179.60" x2="508.90" y2="181.60" stroke="#777" stroke-width="0.8"/><line x1="531.89" y1="179.60" x2="531.89" y2="181.60" stroke="#777" stroke-width="0.8"/><line x1="554.87" y1="179.60" x2="554.87" y2="181.60" stroke="#777" stroke-width="0.8"/><line x1="577.86" y1="179.60" x2="577.86" y2="181.60" stroke="#777" stroke-width="0.8"/><line x1="600.84" y1="179.60" x2="600.84" y2="181.60" stroke="#777" stroke-width="0.8"/><line x1="623.83" y1="179.60" x2="623.83" y2="181.60" stroke="#777" stroke-width="0.8"/><line x1="646.81" y1="179.60" x2="646.81" y2="181.60" stroke="#777" stroke-width="0.8"/><line x1="669.80" y1="179.60" x2="669.80" y2="181.60" stroke="#777" stroke-width="0.8"/><text x="508.90" y="189.80" font-size="8" text-anchor="middle" fill="#333">0</text><text x="531.89" y="189.80" font-size="8" text-anchor="middle" fill="#333">200</text><text x="554.87" y="189.80" font-size="8" text-anchor="middle" fill="#333">400</text><text x="577.86" y="189.80" font-size="8" text-anchor="middle" fill="#333">600</text><text x="600.84" y="189.80" font-size="8" text-anchor="middle" fill="#333">800</text><text x="623.83" y="189.80" font-size="8" text-anchor="middle" fill="#333">1000</text><text x="669.80" y="189.80" font-size="8" text-anchor="middle" fill="#333">1400</text><rect x="547.20" y="40.40" width="13.70" height="12.40" fill="#daf5db" stroke="#7b887f" stroke-width="0.95"/><rect x="530.40" y="45.60" width="1.6" height="3.70" fill="#0000ff"/><circle cx="531.20" cy="46.20" r="1.3" fill="#0000ff"/><circle cx="531.20" cy="48.70" r="1.3" fill="#0000ff"/><rect x="537.33" y="44.23" width="1.75" height="1.75" fill="#0000ff"/><rect x="537.33" y="46.02" width="1.75" height="1.75" fill="#0000ff"/><rect x="537.33" y="47.83" width="1.75" height="1.75" fill="#0000ff"/><rect x="539.39" y="44.23" width="1.75" height="1.75" fill="#0000ff"/><rect x="539.39" y="46.02" width="1.75" height="1.75" fill="#0000ff"/><rect x="539.39" y="47.83" width="1.75" height="1.75" fill="#0000ff"/><rect x="541.46" y="44.23" width="1.75" height="1.75" fill="#0000ff"/><rect x="541.46" y="46.02" width="1.75" height="1.75" fill="#0000ff"/><rect x="541.46" y="47.83" width="1.75" height="1.75" fill="#0000ff"/><rect x="543.53" y="44.23" width="1.75" height="1.75" fill="#0000ff"/><rect x="543.53" y="46.02" width="1.75" height="1.75" fill="#0000ff"/><rect x="543.53" y="47.83" width="1.75" height="1.75" fill="#0000ff"/><rect x="545.60" y="44.23" width="1.75" height="1.75" fill="#0000ff"/><rect x="545.60" y="46.02" width="1.75" height="1.75" fill="#0000ff"/><rect x="545.60" y="47.83" width="1.75" height="1.75" fill="#0000ff"/><rect x="547.67" y="44.23" width="1.75" height="1.75" fill="#0000ff"/><rect x="547.67" y="46.02" width="1.75" height="1.75" fill="#0000ff"/><rect x="547.67" y="47.83" width="1.75" height="1.75" fill="#0000ff"/><rect x="549.74" y="44.23" width="1.75" height="1.75" fill="#0000ff"/><rect x="549.74" y="46.02" width="1.75" height="1.75" fill="#0000ff"/><rect x="549.74" y="47.83" width="1.75" height="1.75" fill="#0000ff"/><rect x="551.81" y="44.23" width="1.75" height="1.75" fill="#0000ff"/><rect x="551.81" y="46.02" width="1.75" height="1.75" fill="#0000ff"/><rect x="551.81" y="47.83" width="1.75" height="1.75" fill="#0000ff"/><rect x="553.88" y="44.23" width="1.75" height="1.75" fill="#0000ff"/><rect x="553.88" y="46.02" width="1.75" height="1.75" fill="#0000ff"/><rect x="553.88" y="47.83" width="1.75" height="1.75" fill="#0000ff"/><rect x="555.95" y="44.23" width="1.75" height="1.75" fill="#0000ff"/><rect x="555.95" y="46.02" width="1.75" height="1.75" fill="#0000ff"/><rect x="555.95" y="47.83" width="1.75" height="1.75" fill="#0000ff"/><rect x="558.02" y="44.23" width="1.75" height="1.75" fill="#0000ff"/><rect x="558.02" y="46.02" width="1.75" height="1.75" fill="#0000ff"/><rect x="558.02" y="47.83" width="1.75" height="1.75" fill="#0000ff"/><rect x="560.09" y="44.23" width="1.75" height="1.75" fill="#0000ff"/><rect x="560.09" y="46.02" width="1.75" height="1.75" fill="#0000ff"/><rect x="560.09" y="47.83" width="1.75" height="1.75" fill="#0000ff"/><rect x="562.16" y="44.23" width="1.75" height="1.75" fill="#0000ff"/><rect x="562.16" y="46.02" width="1.75" height="1.75" fill="#0000ff"/><rect x="562.16" y="47.83" width="1.75" height="1.75" fill="#0000ff"/><rect x="564.23" y="44.23" width="1.75" height="1.75" fill="#0000ff"/><rect x="564.23" y="46.02" width="1.75" height="1.75" fill="#0000ff"/><rect x="564.23" y="47.83" width="1.75" height="1.75" fill="#0000ff"/><rect x="545.40" y="40.00" width="1.6" height="12.90" fill="#0000ff"/><circle cx="546.20" cy="40.60" r="1.3" fill="#0000ff"/><circle cx="546.20" cy="42.94" r="1.3" fill="#0000ff"/><circle cx="546.20" cy="45.28" r="1.3" fill="#0000ff"/><circle cx="546.20" cy="47.62" r="1.3" fill="#0000ff"/><circle cx="546.20" cy="49.96" r="1.3" fill="#0000ff"/><circle cx="546.20" cy="52.30" r="1.3" fill="#0000ff"/><rect x="548.70" y="43.60" width="1.6" height="6.80" fill="#0000ff"/><circle cx="549.50" cy="44.20" r="1.3" fill="#0000ff"/><circle cx="549.50" cy="46.07" r="1.3" fill="#0000ff"/><circle cx="549.50" cy="47.93" r="1.3" fill="#0000ff"/><circle cx="549.50" cy="49.80" r="1.3" fill="#0000ff"/><rect x="552.70" y="43.60" width="1.6" height="7.30" fill="#0000ff"/><circle cx="553.50" cy="44.20" r="1.3" fill="#0000ff"/><circle cx="553.50" cy="46.23" r="1.3" fill="#0000ff"/><circle cx="553.50" cy="48.27" r="1.3" fill="#0000ff"/><circle cx="553.50" cy="50.30" r="1.3" fill="#0000ff"/><rect x="555.70" y="44.10" width="1.6" height="6.80" fill="#0000ff"/><circle cx="556.50" cy="44.70" r="1.3" fill="#0000ff"/><circle cx="556.50" cy="46.57" r="1.3" fill="#0000ff"/><circle cx="556.50" cy="48.43" r="1.3" fill="#0000ff"/><circle cx="556.50" cy="50.30" r="1.3" fill="#0000ff"/><rect x="569.10" y="45.50" width="4.20" height="2.1" fill="#0000ff"/><circle cx="570.30" cy="46.70" r="1.2" fill="#0000ff"/><circle cx="572.10" cy="46.70" r="1.2" fill="#0000ff"/><rect x="575.40" y="45.50" width="6.40" height="2.1" fill="#0000ff"/><circle cx="576.60" cy="46.70" r="1.2" fill="#0000ff"/><circle cx="578.60" cy="46.70" r="1.2" fill="#0000ff"/><circle cx="580.60" cy="46.70" r="1.2" fill="#0000ff"/><rect x="576.20" y="45.60" width="1.6" height="2.80" fill="#0000ff"/><circle cx="577.00" cy="46.20" r="1.3" fill="#0000ff"/><circle cx="577.00" cy="47.80" r="1.3" fill="#0000ff"/><rect x="584.20" y="45.60" width="1.6" height="2.80" fill="#0000ff"/><circle cx="585.00" cy="46.20" r="1.3" fill="#0000ff"/><circle cx="585.00" cy="47.80" r="1.3" fill="#0000ff"/><line x1="550.50" y1="36.00" x2="550.50" y2="57.30" stroke="#4f5450" stroke-width="1.35"/><rect x="555.60" y="73.40" width="14.60" height="12.90" fill="#daf5db" stroke="#7b887f" stroke-width="0.95"/><rect x="534.70" y="77.60" width="1.6" height="4.50" fill="#0000ff"/><circle cx="535.50" cy="78.20" r="1.3" fill="#0000ff"/><circle cx="535.50" cy="79.85" r="1.3" fill="#0000ff"/><circle cx="535.50" cy="81.50" r="1.3" fill="#0000ff"/><rect x="545.73" y="79.33" width="1.75" height="1.75" fill="#0000ff"/><rect x="545.73" y="80.42" width="1.75" height="1.75" fill="#0000ff"/><rect x="546.83" y="79.33" width="1.75" height="1.75" fill="#0000ff"/><rect x="546.83" y="80.42" width="1.75" height="1.75" fill="#0000ff"/><circle cx="552.50" cy="79.80" r="1.45" fill="#0000ff"/><rect x="556.10" y="77.60" width="1.6" height="4.30" fill="#0000ff"/><circle cx="556.90" cy="78.20" r="1.3" fill="#0000ff"/><circle cx="556.90" cy="81.30" r="1.3" fill="#0000ff"/><rect x="562.50" y="75.80" width="1.6" height="7.60" fill="#0000ff"/><circle cx="563.30" cy="76.40" r="1.3" fill="#0000ff"/><circle cx="563.30" cy="78.53" r="1.3" fill="#0000ff"/><circle cx="563.30" cy="80.67" r="1.3" fill="#0000ff"/><circle cx="563.30" cy="82.80" r="1.3" fill="#0000ff"/><rect x="560.50" y="78.80" width="8.40" height="2.1" fill="#0000ff"/><circle cx="561.70" cy="80.00" r="1.2" fill="#0000ff"/><circle cx="564.70" cy="80.00" r="1.2" fill="#0000ff"/><circle cx="567.70" cy="80.00" r="1.2" fill="#0000ff"/><rect x="567.60" y="76.00" width="1.6" height="7.40" fill="#0000ff"/><circle cx="568.40" cy="76.60" r="1.3" fill="#0000ff"/><circle cx="568.40" cy="78.67" r="1.3" fill="#0000ff"/><circle cx="568.40" cy="80.73" r="1.3" fill="#0000ff"/><circle cx="568.40" cy="82.80" r="1.3" fill="#0000ff"/><rect x="569.40" y="73.10" width="1.6" height="13.00" fill="#0000ff"/><circle cx="570.20" cy="73.70" r="1.3" fill="#0000ff"/><circle cx="570.20" cy="76.06" r="1.3" fill="#0000ff"/><circle cx="570.20" cy="78.42" r="1.3" fill="#0000ff"/><circle cx="570.20" cy="80.78" r="1.3" fill="#0000ff"/><circle cx="570.20" cy="83.14" r="1.3" fill="#0000ff"/><circle cx="570.20" cy="85.50" r="1.3" fill="#0000ff"/><circle cx="576.20" cy="79.80" r="1.45" fill="#0000ff"/><rect x="580.00" y="77.60" width="1.6" height="4.30" fill="#0000ff"/><circle cx="580.80" cy="78.20" r="1.3" fill="#0000ff"/><circle cx="580.80" cy="81.30" r="1.3" fill="#0000ff"/><rect x="584.20" y="78.60" width="1.6" height="2.80" fill="#0000ff"/><circle cx="585.00" cy="79.20" r="1.3" fill="#0000ff"/><circle cx="585.00" cy="80.80" r="1.3" fill="#0000ff"/><circle cx="591.60" cy="79.80" r="1.45" fill="#0000ff"/><line x1="562.90" y1="69.00" x2="562.90" y2="90.70" stroke="#4f5450" stroke-width="1.35"/><rect x="537.00" y="106.70" width="12.60" height="12.60" fill="#daf5db" stroke="#7b887f" stroke-width="0.95"/><rect x="525.70" y="112.60" width="1.6" height="3.00" fill="#ff0000"/><circle cx="526.50" cy="113.20" r="1.3" fill="#ff0000"/><circle cx="526.50" cy="115.00" r="1.3" fill="#ff0000"/><rect x="526.33" y="110.23" width="1.75" height="1.75" fill="#ff0000"/><rect x="526.33" y="112.18" width="1.75" height="1.75" fill="#ff0000"/><rect x="526.33" y="114.12" width="1.75" height="1.75" fill="#ff0000"/><rect x="528.39" y="110.23" width="1.75" height="1.75" fill="#ff0000"/><rect x="528.39" y="112.18" width="1.75" height="1.75" fill="#ff0000"/><rect x="528.39" y="114.12" width="1.75" height="1.75" fill="#ff0000"/><rect x="530.46" y="110.23" width="1.75" height="1.75" fill="#ff0000"/><rect x="530.46" y="112.18" width="1.75" height="1.75" fill="#ff0000"/><rect x="530.46" y="114.12" width="1.75" height="1.75" fill="#ff0000"/><rect x="532.53" y="110.23" width="1.75" height="1.75" fill="#ff0000"/><rect x="532.53" y="112.18" width="1.75" height="1.75" fill="#ff0000"/><rect x="532.53" y="114.12" width="1.75" height="1.75" fill="#ff0000"/><rect x="534.59" y="110.23" width="1.75" height="1.75" fill="#ff0000"/><rect x="534.59" y="112.18" width="1.75" height="1.75" fill="#ff0000"/><rect x="534.59" y="114.12" width="1.75" height="1.75" fill="#ff0000"/><rect x="536.66" y="110.23" width="1.75" height="1.75" fill="#ff0000"/><rect x="536.66" y="112.18" width="1.75" height="1.75" fill="#ff0000"/><rect x="536.66" y="114.12" width="1.75" height="1.75" fill="#ff0000"/><rect x="538.73" y="110.23" width="1.75" height="1.75" fill="#ff0000"/><rect x="538.73" y="112.18" width="1.75" height="1.75" fill="#ff0000"/><rect x="538.73" y="114.12" width="1.75" height="1.75" fill="#ff0000"/><rect x="540.79" y="110.23" width="1.75" height="1.75" fill="#ff0000"/><rect x="540.79" y="112.18" width="1.75" height="1.75" fill="#ff0000"/><rect x="540.79" y="114.12" width="1.75" height="1.75" fill="#ff0000"/><rect x="542.86" y="110.23" width="1.75" height="1.75" fill="#ff0000"/><rect x="542.86" y="112.18" width="1.75" height="1.75" fill="#ff0000"/><rect x="542.86" y="114.12" width="1.75" height="1.75" fill="#ff0000"/><rect x="544.93" y="110.23" width="1.75" height="1.75" fill="#ff0000"/><rect x="544.93" y="112.18" width="1.75" height="1.75" fill="#ff0000"/><rect x="544.93" y="114.12" width="1.75" height="1.75" fill="#ff0000"/><rect x="541.33" y="108.12" width="1.75" height="1.75" fill="#ff0000"/><rect x="541.33" y="110.08" width="1.75" height="1.75" fill="#ff0000"/><rect x="541.33" y="112.03" width="1.75" height="1.75" fill="#ff0000"/><rect x="541.33" y="113.97" width="1.75" height="1.75" fill="#ff0000"/><rect x="541.33" y="115.92" width="1.75" height="1.75" fill="#ff0000"/><rect x="543.12" y="108.12" width="1.75" height="1.75" fill="#ff0000"/><rect x="543.12" y="110.08" width="1.75" height="1.75" fill="#ff0000"/><rect x="543.12" y="112.03" width="1.75" height="1.75" fill="#ff0000"/><rect x="543.12" y="113.97" width="1.75" height="1.75" fill="#ff0000"/><rect x="543.12" y="115.92" width="1.75" height="1.75" fill="#ff0000"/><rect x="544.93" y="108.12" width="1.75" height="1.75" fill="#ff0000"/><rect x="544.93" y="110.08" width="1.75" height="1.75" fill="#ff0000"/><rect x="544.93" y="112.03" width="1.75" height="1.75" fill="#ff0000"/><rect x="544.93" y="113.97" width="1.75" height="1.75" fill="#ff0000"/><rect x="544.93" y="115.92" width="1.75" height="1.75" fill="#ff0000"/><rect x="542.20" y="107.60" width="1.6" height="12.50" fill="#ff0000"/><circle cx="543.00" cy="108.20" r="1.3" fill="#ff0000"/><circle cx="543.00" cy="110.46" r="1.3" fill="#ff0000"/><circle cx="543.00" cy="112.72" r="1.3" fill="#ff0000"/><circle cx="543.00" cy="114.98" r="1.3" fill="#ff0000"/><circle cx="543.00" cy="117.24" r="1.3" fill="#ff0000"/><circle cx="543.00" cy="119.50" r="1.3" fill="#ff0000"/><rect x="547.00" y="112.20" width="4.60" height="2.1" fill="#ff0000"/><circle cx="548.20" cy="113.40" r="1.2" fill="#ff0000"/><circle cx="550.40" cy="113.40" r="1.2" fill="#ff0000"/><rect x="554.30" y="112.20" width="7.50" height="2.1" fill="#ff0000"/><circle cx="555.50" cy="113.40" r="1.2" fill="#ff0000"/><circle cx="558.05" cy="113.40" r="1.2" fill="#ff0000"/><circle cx="560.60" cy="113.40" r="1.2" fill="#ff0000"/><rect x="556.30" y="109.10" width="1.6" height="8.30" fill="#ff0000"/><circle cx="557.10" cy="109.70" r="1.3" fill="#ff0000"/><circle cx="557.10" cy="112.07" r="1.3" fill="#ff0000"/><circle cx="557.10" cy="114.43" r="1.3" fill="#ff0000"/><circle cx="557.10" cy="116.80" r="1.3" fill="#ff0000"/><rect x="569.20" y="112.60" width="1.6" height="2.80" fill="#ff0000"/><circle cx="570.00" cy="113.20" r="1.3" fill="#ff0000"/><circle cx="570.00" cy="114.80" r="1.3" fill="#ff0000"/><circle cx="578.40" cy="113.20" r="1.45" fill="#ff0000"/><line x1="542.60" y1="102.40" x2="542.60" y2="123.70" stroke="#4f5450" stroke-width="1.35"/><rect x="533.40" y="140.30" width="27.10" height="12.00" fill="#daf5db" stroke="#7b887f" stroke-width="0.95"/><rect x="528.83" y="144.32" width="1.75" height="1.75" fill="#ff0000"/><rect x="528.83" y="146.92" width="1.75" height="1.75" fill="#ff0000"/><rect x="530.69" y="144.32" width="1.75" height="1.75" fill="#ff0000"/><rect x="530.69" y="146.92" width="1.75" height="1.75" fill="#ff0000"/><rect x="532.56" y="144.32" width="1.75" height="1.75" fill="#ff0000"/><rect x="532.56" y="146.92" width="1.75" height="1.75" fill="#ff0000"/><rect x="534.43" y="144.32" width="1.75" height="1.75" fill="#ff0000"/><rect x="534.43" y="146.92" width="1.75" height="1.75" fill="#ff0000"/><rect x="532.60" y="144.00" width="1.6" height="5.00" fill="#ff0000"/><circle cx="533.40" cy="144.60" r="1.3" fill="#ff0000"/><circle cx="533.40" cy="146.50" r="1.3" fill="#ff0000"/><circle cx="533.40" cy="148.40" r="1.3" fill="#ff0000"/><rect x="552.10" y="141.80" width="1.6" height="9.40" fill="#ff0000"/><circle cx="552.90" cy="142.40" r="1.3" fill="#ff0000"/><circle cx="552.90" cy="144.45" r="1.3" fill="#ff0000"/><circle cx="552.90" cy="146.50" r="1.3" fill="#ff0000"/><circle cx="552.90" cy="148.55" r="1.3" fill="#ff0000"/><circle cx="552.90" cy="150.60" r="1.3" fill="#ff0000"/><rect x="553.33" y="144.32" width="1.75" height="1.75" fill="#ff0000"/><rect x="553.33" y="146.12" width="1.75" height="1.75" fill="#ff0000"/><rect x="553.33" y="147.92" width="1.75" height="1.75" fill="#ff0000"/><rect x="555.93" y="144.32" width="1.75" height="1.75" fill="#ff0000"/><rect x="555.93" y="146.12" width="1.75" height="1.75" fill="#ff0000"/><rect x="555.93" y="147.92" width="1.75" height="1.75" fill="#ff0000"/><rect x="556.60" y="144.60" width="1.6" height="4.80" fill="#ff0000"/><circle cx="557.40" cy="145.20" r="1.3" fill="#ff0000"/><circle cx="557.40" cy="147.00" r="1.3" fill="#ff0000"/><circle cx="557.40" cy="148.80" r="1.3" fill="#ff0000"/><rect x="571.43" y="145.32" width="1.75" height="1.75" fill="#ff0000"/><rect x="573.03" y="145.32" width="1.75" height="1.75" fill="#ff0000"/><rect x="573.20" y="143.60" width="1.6" height="6.80" fill="#ff0000"/><circle cx="574.00" cy="144.20" r="1.3" fill="#ff0000"/><circle cx="574.00" cy="146.07" r="1.3" fill="#ff0000"/><circle cx="574.00" cy="147.93" r="1.3" fill="#ff0000"/><circle cx="574.00" cy="149.80" r="1.3" fill="#ff0000"/><line x1="553.40" y1="135.90" x2="553.40" y2="157.20" stroke="#4f5450" stroke-width="1.35"/><text x="517.6" y="9.5" font-size="11.9" fill="#1a1a1a" stroke="#1a1a1a" stroke-width="0.22">SDRsex=<tspan font-weight="bold">0.52</tspan></text><text x="589.0" y="9.5" font-size="11.9" fill="#1a1a1a" stroke="#1a1a1a" stroke-width="0.22">SDRage=0.32</text><text x="558.6" y="203.6" font-size="11.4" fill="#222" stroke="#222" stroke-width="0.15">PPT-QC</text><text x="606.9" y="203.6" font-size="11.4" fill="#222" stroke="#222" stroke-width="0.15">kPa</text><text x="462.00" y="48.50" font-size="8.7" fill="#222" stroke="#333" stroke-width="0.05">M/Age</text><path d="M494.55,41.70 L488.05,45.20 L494.55,48.70" fill="none" stroke="#333" stroke-width="0.85"/><text x="496.45" y="48.50" font-size="8.7" fill="#222" stroke="#333" stroke-width="0.05">40</text><text x="507.00" y="55.20" font-size="4.9" text-anchor="end" fill="#333">(52)</text><text x="462.00" y="81.80" font-size="8.7" fill="#222" stroke="#333" stroke-width="0.05">M/Age</text><path d="M488.15,74.30 L494.25,76.80 L488.15,79.10" fill="none" stroke="#3a3a3a" stroke-width="0.7"/><path d="M487.95,80.30 H494.45 M487.95,81.80 H494.45" fill="none" stroke="#3a3a3a" stroke-width="0.7"/><text x="496.45" y="81.80" font-size="8.7" fill="#222" stroke="#333" stroke-width="0.05">40</text><text x="507.00" y="88.50" font-size="4.9" text-anchor="end" fill="#333">(33)</text><text x="462.00" y="115.20" font-size="8.7" fill="#222" stroke="#333" stroke-width="0.05">F/Age</text><path d="M491.65,108.40 L485.15,111.90 L491.65,115.40" fill="none" stroke="#333" stroke-width="0.85"/><text x="493.55" y="115.20" font-size="8.7" fill="#222" stroke="#333" stroke-width="0.05">40</text><text x="507.00" y="121.90" font-size="4.9" text-anchor="end" fill="#333">(48)</text><text x="462.00" y="148.40" font-size="8.7" fill="#222" stroke="#333" stroke-width="0.05">F/Age</text><path d="M485.25,140.90 L491.35,143.40 L485.25,145.70" fill="none" stroke="#3a3a3a" stroke-width="0.7"/><path d="M485.05,146.90 H491.55 M485.05,148.40 H491.55" fill="none" stroke="#3a3a3a" stroke-width="0.7"/><text x="493.55" y="148.40" font-size="8.7" fill="#222" stroke="#333" stroke-width="0.05">40</text><text x="507.00" y="155.10" font-size="4.9" text-anchor="end" fill="#333">(25)</text></g>
<g><rect x="70.60" y="241.70" width="79.80" height="166.30" fill="#e2f7ea"/><line x1="70.50" y1="241.70" x2="70.50" y2="408.00" stroke="#a6a6a6" stroke-width="1.0"/><line x1="93.50" y1="241.70" x2="93.50" y2="408.00" stroke="#919b95" stroke-width="1.0"/><line x1="116.50" y1="241.70" x2="116.50" y2="408.00" stroke="#919b95" stroke-width="1.0"/><line x1="139.50" y1="241.70" x2="139.50" y2="408.00" stroke="#919b95" stroke-width="1.0"/><line x1="162.50" y1="241.70" x2="162.50" y2="408.00" stroke="#a6a6a6" stroke-width="1.0"/><line x1="185.50" y1="241.70" x2="185.50" y2="408.00" stroke="#a6a6a6" stroke-width="1.0"/><rect x="47.50" y="241.50" width="161.00" height="166.50" fill="none" stroke="#a8a8a8" stroke-width="1.1"/><line x1="47.20" y1="275.50" x2="208.30" y2="275.50" stroke="#585b59" stroke-width="1"/><line x1="47.20" y1="308.50" x2="208.30" y2="308.50" stroke="#585b59" stroke-width="1"/><line x1="47.20" y1="341.50" x2="208.30" y2="341.50" stroke="#585b59" stroke-width="1"/><line x1="47.20" y1="374.50" x2="208.30" y2="374.50" stroke="#585b59" stroke-width="1"/><line x1="46.70" y1="408.00" x2="208.80" y2="408.00" stroke="#5a5a5a" stroke-width="1.15"/><line x1="47.20" y1="408.00" x2="47.20" y2="410.00" stroke="#777" stroke-width="0.8"/><line x1="70.21" y1="408.00" x2="70.21" y2="410.00" stroke="#777" stroke-width="0.8"/><line x1="93.23" y1="408.00" x2="93.23" y2="410.00" stroke="#777" stroke-width="0.8"/><line x1="116.24" y1="408.00" x2="116.24" y2="410.00" stroke="#777" stroke-width="0.8"/><line x1="139.26" y1="408.00" x2="139.26" y2="410.00" stroke="#777" stroke-width="0.8"/><line x1="162.27" y1="408.00" x2="162.27" y2="410.00" stroke="#777" stroke-width="0.8"/><line x1="185.29" y1="408.00" x2="185.29" y2="410.00" stroke="#777" stroke-width="0.8"/><line x1="208.30" y1="408.00" x2="208.30" y2="410.00" stroke="#777" stroke-width="0.8"/><text x="47.20" y="418.20" font-size="8" text-anchor="middle" fill="#333">0</text><text x="70.21" y="418.20" font-size="8" text-anchor="middle" fill="#333">200</text><text x="93.23" y="418.20" font-size="8" text-anchor="middle" fill="#333">400</text><text x="116.24" y="418.20" font-size="8" text-anchor="middle" fill="#333">600</text><text x="139.26" y="418.20" font-size="8" text-anchor="middle" fill="#333">800</text><text x="162.27" y="418.20" font-size="8" text-anchor="middle" fill="#333">1000</text><text x="208.30" y="418.20" font-size="8" text-anchor="middle" fill="#333">1400</text><rect x="92.40" y="268.60" width="22.10" height="12.50" fill="#daf5db" stroke="#7b887f" stroke-width="0.95"/><rect x="79.50" y="274.30" width="21.30" height="2.1" fill="#0000ff"/><circle cx="80.70" cy="275.50" r="1.2" fill="#0000ff"/><circle cx="83.06" cy="275.50" r="1.2" fill="#0000ff"/><circle cx="85.42" cy="275.50" r="1.2" fill="#0000ff"/><circle cx="87.79" cy="275.50" r="1.2" fill="#0000ff"/><circle cx="90.15" cy="275.50" r="1.2" fill="#0000ff"/><circle cx="92.51" cy="275.50" r="1.2" fill="#0000ff"/><circle cx="94.88" cy="275.50" r="1.2" fill="#0000ff"/><circle cx="97.24" cy="275.50" r="1.2" fill="#0000ff"/><circle cx="99.60" cy="275.50" r="1.2" fill="#0000ff"/><rect x="79.60" y="272.80" width="1.6" height="6.80" fill="#0000ff"/><circle cx="80.40" cy="273.40" r="1.3" fill="#0000ff"/><circle cx="80.40" cy="275.27" r="1.3" fill="#0000ff"/><circle cx="80.40" cy="277.13" r="1.3" fill="#0000ff"/><circle cx="80.40" cy="279.00" r="1.3" fill="#0000ff"/><rect x="82.70" y="273.60" width="1.6" height="3.80" fill="#0000ff"/><circle cx="83.50" cy="274.20" r="1.3" fill="#0000ff"/><circle cx="83.50" cy="276.80" r="1.3" fill="#0000ff"/><rect x="85.20" y="273.60" width="1.6" height="3.80" fill="#0000ff"/><circle cx="86.00" cy="274.20" r="1.3" fill="#0000ff"/><circle cx="86.00" cy="276.80" r="1.3" fill="#0000ff"/><rect x="87.70" y="273.60" width="1.6" height="3.80" fill="#0000ff"/><circle cx="88.50" cy="274.20" r="1.3" fill="#0000ff"/><circle cx="88.50" cy="276.80" r="1.3" fill="#0000ff"/><rect x="90.20" y="273.60" width="1.6" height="3.80" fill="#0000ff"/><circle cx="91.00" cy="274.20" r="1.3" fill="#0000ff"/><circle cx="91.00" cy="276.80" r="1.3" fill="#0000ff"/><rect x="93.12" y="270.72" width="1.75" height="1.75" fill="#0000ff"/><rect x="93.12" y="273.02" width="1.75" height="1.75" fill="#0000ff"/><rect x="93.12" y="275.32" width="1.75" height="1.75" fill="#0000ff"/><rect x="93.12" y="277.62" width="1.75" height="1.75" fill="#0000ff"/><rect x="94.99" y="270.72" width="1.75" height="1.75" fill="#0000ff"/><rect x="94.99" y="273.02" width="1.75" height="1.75" fill="#0000ff"/><rect x="94.99" y="275.32" width="1.75" height="1.75" fill="#0000ff"/><rect x="94.99" y="277.62" width="1.75" height="1.75" fill="#0000ff"/><rect x="96.86" y="270.72" width="1.75" height="1.75" fill="#0000ff"/><rect x="96.86" y="273.02" width="1.75" height="1.75" fill="#0000ff"/><rect x="96.86" y="275.32" width="1.75" height="1.75" fill="#0000ff"/><rect x="96.86" y="277.62" width="1.75" height="1.75" fill="#0000ff"/><rect x="98.72" y="270.72" width="1.75" height="1.75" fill="#0000ff"/><rect x="98.72" y="273.02" width="1.75" height="1.75" fill="#0000ff"/><rect x="98.72" y="275.32" width="1.75" height="1.75" fill="#0000ff"/><rect x="98.72" y="277.62" width="1.75" height="1.75" fill="#0000ff"/><rect x="103.40" y="274.30" width="16.40" height="2.1" fill="#0000ff"/><circle cx="104.60" cy="275.50" r="1.2" fill="#0000ff"/><circle cx="106.93" cy="275.50" r="1.2" fill="#0000ff"/><circle cx="109.27" cy="275.50" r="1.2" fill="#0000ff"/><circle cx="111.60" cy="275.50" r="1.2" fill="#0000ff"/><circle cx="113.93" cy="275.50" r="1.2" fill="#0000ff"/><circle cx="116.27" cy="275.50" r="1.2" fill="#0000ff"/><circle cx="118.60" cy="275.50" r="1.2" fill="#0000ff"/><rect x="105.30" y="273.60" width="1.6" height="3.80" fill="#0000ff"/><circle cx="106.10" cy="274.20" r="1.3" fill="#0000ff"/><circle cx="106.10" cy="276.80" r="1.3" fill="#0000ff"/><rect x="109.70" y="273.60" width="1.6" height="3.80" fill="#0000ff"/><circle cx="110.50" cy="274.20" r="1.3" fill="#0000ff"/><circle cx="110.50" cy="276.80" r="1.3" fill="#0000ff"/><rect x="118.10" y="272.60" width="1.6" height="5.30" fill="#0000ff"/><circle cx="118.90" cy="273.20" r="1.3" fill="#0000ff"/><circle cx="118.90" cy="275.25" r="1.3" fill="#0000ff"/><circle cx="118.90" cy="277.30" r="1.3" fill="#0000ff"/><circle cx="125.50" cy="275.30" r="1.45" fill="#0000ff"/><rect x="129.50" y="274.30" width="3.10" height="2.1" fill="#0000ff"/><circle cx="130.70" cy="275.50" r="1.2" fill="#0000ff"/><rect x="129.00" y="275.60" width="1.6" height="1.80" fill="#0000ff"/><circle cx="129.80" cy="276.20" r="1.3" fill="#0000ff"/><circle cx="136.20" cy="275.30" r="1.45" fill="#0000ff"/><rect x="146.40" y="274.60" width="1.6" height="2.80" fill="#0000ff"/><circle cx="147.20" cy="275.20" r="1.3" fill="#0000ff"/><circle cx="147.20" cy="276.80" r="1.3" fill="#0000ff"/><circle cx="166.30" cy="275.30" r="1.45" fill="#0000ff"/><line x1="99.50" y1="264.70" x2="99.50" y2="285.50" stroke="#4f5450" stroke-width="1.35"/><rect x="104.30" y="302.50" width="25.20" height="11.80" fill="#daf5db" stroke="#7b887f" stroke-width="0.95"/><rect x="81.80" y="304.00" width="1.6" height="9.00" fill="#0000ff"/><circle cx="82.60" cy="304.60" r="1.3" fill="#0000ff"/><circle cx="82.60" cy="306.55" r="1.3" fill="#0000ff"/><circle cx="82.60" cy="308.50" r="1.3" fill="#0000ff"/><circle cx="82.60" cy="310.45" r="1.3" fill="#0000ff"/><circle cx="82.60" cy="312.40" r="1.3" fill="#0000ff"/><rect x="103.10" y="304.00" width="1.6" height="10.80" fill="#0000ff"/><circle cx="103.90" cy="304.60" r="1.3" fill="#0000ff"/><circle cx="103.90" cy="307.00" r="1.3" fill="#0000ff"/><circle cx="103.90" cy="309.40" r="1.3" fill="#0000ff"/><circle cx="103.90" cy="311.80" r="1.3" fill="#0000ff"/><circle cx="103.90" cy="314.20" r="1.3" fill="#0000ff"/><circle cx="101.50" cy="308.50" r="1.45" fill="#0000ff"/><circle cx="110.50" cy="308.50" r="1.45" fill="#0000ff"/><circle cx="118.40" cy="308.50" r="1.45" fill="#0000ff"/><rect x="118.00" y="307.50" width="7.00" height="2.1" fill="#0000ff"/><circle cx="119.20" cy="308.70" r="1.2" fill="#0000ff"/><circle cx="121.50" cy="308.70" r="1.2" fill="#0000ff"/><circle cx="123.80" cy="308.70" r="1.2" fill="#0000ff"/><rect x="122.50" y="301.80" width="1.6" height="13.00" fill="#0000ff"/><circle cx="123.30" cy="302.40" r="1.3" fill="#0000ff"/><circle cx="123.30" cy="304.76" r="1.3" fill="#0000ff"/><circle cx="123.30" cy="307.12" r="1.3" fill="#0000ff"/><circle cx="123.30" cy="309.48" r="1.3" fill="#0000ff"/><circle cx="123.30" cy="311.84" r="1.3" fill="#0000ff"/><circle cx="123.30" cy="314.20" r="1.3" fill="#0000ff"/><circle cx="123.30" cy="308.50" r="1.6" fill="#ff0000"/><rect x="127.30" y="307.50" width="5.30" height="2.1" fill="#0000ff"/><circle cx="128.50" cy="308.70" r="1.2" fill="#0000ff"/><circle cx="131.40" cy="308.70" r="1.2" fill="#0000ff"/><rect x="131.20" y="308.60" width="1.6" height="1.80" fill="#0000ff"/><circle cx="132.00" cy="309.20" r="1.3" fill="#0000ff"/><rect x="137.50" y="307.50" width="3.50" height="2.1" fill="#0000ff"/><circle cx="138.70" cy="308.70" r="1.2" fill="#0000ff"/><rect x="139.70" y="308.60" width="1.6" height="1.80" fill="#0000ff"/><circle cx="140.50" cy="309.20" r="1.3" fill="#0000ff"/><rect x="148.20" y="306.60" width="1.6" height="3.80" fill="#0000ff"/><circle cx="149.00" cy="307.20" r="1.3" fill="#0000ff"/><circle cx="149.00" cy="309.80" r="1.3" fill="#0000ff"/><line x1="122.40" y1="298.10" x2="122.40" y2="318.90" stroke="#4f5450" stroke-width="1.35"/><rect x="81.20" y="335.10" width="18.10" height="12.40" fill="#daf5db" stroke="#7b887f" stroke-width="0.95"/><circle cx="63.40" cy="341.50" r="1.45" fill="#ff0000"/><rect x="73.53" y="339.12" width="1.75" height="1.75" fill="#ff0000"/><rect x="73.53" y="341.32" width="1.75" height="1.75" fill="#ff0000"/><rect x="73.53" y="343.53" width="1.75" height="1.75" fill="#ff0000"/><rect x="75.62" y="339.12" width="1.75" height="1.75" fill="#ff0000"/><rect x="75.62" y="341.32" width="1.75" height="1.75" fill="#ff0000"/><rect x="75.62" y="343.53" width="1.75" height="1.75" fill="#ff0000"/><rect x="77.73" y="339.12" width="1.75" height="1.75" fill="#ff0000"/><rect x="77.73" y="341.32" width="1.75" height="1.75" fill="#ff0000"/><rect x="77.73" y="343.53" width="1.75" height="1.75" fill="#ff0000"/><rect x="79.83" y="339.12" width="1.75" height="1.75" fill="#ff0000"/><rect x="79.83" y="341.32" width="1.75" height="1.75" fill="#ff0000"/><rect x="79.83" y="343.53" width="1.75" height="1.75" fill="#ff0000"/><rect x="81.93" y="339.12" width="1.75" height="1.75" fill="#ff0000"/><rect x="81.93" y="341.32" width="1.75" height="1.75" fill="#ff0000"/><rect x="81.93" y="343.53" width="1.75" height="1.75" fill="#ff0000"/><rect x="84.03" y="339.12" width="1.75" height="1.75" fill="#ff0000"/><rect x="84.03" y="341.32" width="1.75" height="1.75" fill="#ff0000"/><rect x="84.03" y="343.53" width="1.75" height="1.75" fill="#ff0000"/><rect x="86.12" y="339.12" width="1.75" height="1.75" fill="#ff0000"/><rect x="86.12" y="341.32" width="1.75" height="1.75" fill="#ff0000"/><rect x="86.12" y="343.53" width="1.75" height="1.75" fill="#ff0000"/><rect x="88.23" y="339.12" width="1.75" height="1.75" fill="#ff0000"/><rect x="88.23" y="341.32" width="1.75" height="1.75" fill="#ff0000"/><rect x="88.23" y="343.53" width="1.75" height="1.75" fill="#ff0000"/><rect x="90.33" y="339.12" width="1.75" height="1.75" fill="#ff0000"/><rect x="90.33" y="341.32" width="1.75" height="1.75" fill="#ff0000"/><rect x="90.33" y="343.53" width="1.75" height="1.75" fill="#ff0000"/><rect x="92.43" y="339.12" width="1.75" height="1.75" fill="#ff0000"/><rect x="92.43" y="341.32" width="1.75" height="1.75" fill="#ff0000"/><rect x="92.43" y="343.53" width="1.75" height="1.75" fill="#ff0000"/><rect x="94.53" y="339.12" width="1.75" height="1.75" fill="#ff0000"/><rect x="94.53" y="341.32" width="1.75" height="1.75" fill="#ff0000"/><rect x="94.53" y="343.53" width="1.75" height="1.75" fill="#ff0000"/><rect x="96.63" y="339.12" width="1.75" height="1.75" fill="#ff0000"/><rect x="96.63" y="341.32" width="1.75" height="1.75" fill="#ff0000"/><rect x="96.63" y="343.53" width="1.75" height="1.75" fill="#ff0000"/><rect x="98.73" y="339.12" width="1.75" height="1.75" fill="#ff0000"/><rect x="98.73" y="341.32" width="1.75" height="1.75" fill="#ff0000"/><rect x="98.73" y="343.53" width="1.75" height="1.75" fill="#ff0000"/><rect x="100.83" y="339.12" width="1.75" height="1.75" fill="#ff0000"/><rect x="100.83" y="341.32" width="1.75" height="1.75" fill="#ff0000"/><rect x="100.83" y="343.53" width="1.75" height="1.75" fill="#ff0000"/><rect x="89.70" y="337.00" width="1.6" height="9.00" fill="#ff0000"/><circle cx="90.50" cy="337.60" r="1.3" fill="#ff0000"/><circle cx="90.50" cy="339.55" r="1.3" fill="#ff0000"/><circle cx="90.50" cy="341.50" r="1.3" fill="#ff0000"/><circle cx="90.50" cy="343.45" r="1.3" fill="#ff0000"/><circle cx="90.50" cy="345.40" r="1.3" fill="#ff0000"/><rect x="124.70" y="339.70" width="1.6" height="6.30" fill="#ff0000"/><circle cx="125.50" cy="340.30" r="1.3" fill="#ff0000"/><circle cx="125.50" cy="342.85" r="1.3" fill="#ff0000"/><circle cx="125.50" cy="345.40" r="1.3" fill="#ff0000"/><circle cx="133.90" cy="341.50" r="1.45" fill="#ff0000"/><circle cx="147.10" cy="341.50" r="1.45" fill="#ff0000"/><line x1="90.50" y1="331.10" x2="90.50" y2="352.40" stroke="#4f5450" stroke-width="1.35"/><rect x="77.30" y="368.50" width="33.40" height="12.70" fill="#daf5db" stroke="#7b887f" stroke-width="0.95"/><rect x="66.60" y="372.70" width="1.6" height="6.50" fill="#ff0000"/><circle cx="67.40" cy="373.30" r="1.3" fill="#ff0000"/><circle cx="67.40" cy="375.95" r="1.3" fill="#ff0000"/><circle cx="67.40" cy="378.60" r="1.3" fill="#ff0000"/><rect x="73.20" y="373.90" width="5.30" height="2.1" fill="#ff0000"/><circle cx="74.40" cy="375.10" r="1.2" fill="#ff0000"/><circle cx="77.30" cy="375.10" r="1.2" fill="#ff0000"/><rect x="77.40" y="372.60" width="1.6" height="6.80" fill="#ff0000"/><circle cx="78.20" cy="373.20" r="1.3" fill="#ff0000"/><circle cx="78.20" cy="375.07" r="1.3" fill="#ff0000"/><circle cx="78.20" cy="376.93" r="1.3" fill="#ff0000"/><circle cx="78.20" cy="378.80" r="1.3" fill="#ff0000"/><rect x="92.70" y="373.90" width="3.50" height="2.1" fill="#ff0000"/><circle cx="93.90" cy="375.10" r="1.2" fill="#ff0000"/><rect x="92.20" y="372.60" width="1.6" height="6.80" fill="#ff0000"/><circle cx="93.00" cy="373.20" r="1.3" fill="#ff0000"/><circle cx="93.00" cy="375.07" r="1.3" fill="#ff0000"/><circle cx="93.00" cy="376.93" r="1.3" fill="#ff0000"/><circle cx="93.00" cy="378.80" r="1.3" fill="#ff0000"/><rect x="95.20" y="374.60" width="1.6" height="2.80" fill="#ff0000"/><circle cx="96.00" cy="375.20" r="1.3" fill="#ff0000"/><circle cx="96.00" cy="376.80" r="1.3" fill="#ff0000"/><rect x="99.00" y="372.60" width="1.6" height="5.30" fill="#ff0000"/><circle cx="99.80" cy="373.20" r="1.3" fill="#ff0000"/><circle cx="99.80" cy="375.25" r="1.3" fill="#ff0000"/><circle cx="99.80" cy="377.30" r="1.3" fill="#ff0000"/><rect x="109.80" y="372.60" width="1.6" height="6.80" fill="#ff0000"/><circle cx="110.60" cy="373.20" r="1.3" fill="#ff0000"/><circle cx="110.60" cy="375.07" r="1.3" fill="#ff0000"/><circle cx="110.60" cy="376.93" r="1.3" fill="#ff0000"/><circle cx="110.60" cy="378.80" r="1.3" fill="#ff0000"/><rect x="135.40" y="372.60" width="1.6" height="6.80" fill="#ff0000"/><circle cx="136.20" cy="373.20" r="1.3" fill="#ff0000"/><circle cx="136.20" cy="375.07" r="1.3" fill="#ff0000"/><circle cx="136.20" cy="376.93" r="1.3" fill="#ff0000"/><circle cx="136.20" cy="378.80" r="1.3" fill="#ff0000"/><line x1="94.70" y1="364.10" x2="94.70" y2="385.40" stroke="#4f5450" stroke-width="1.35"/><text x="63.2" y="235.8" font-size="11.9" fill="#1a1a1a" stroke="#1a1a1a" stroke-width="0.22">SDRsex=<tspan font-weight="bold">0.50</tspan></text><text x="134.2" y="235.8" font-size="11.9" fill="#1a1a1a" stroke="#1a1a1a" stroke-width="0.22">SDRage=0.34</text><text x="98.1" y="432.3" font-size="11.4" fill="#222" stroke="#222" stroke-width="0.15">PPT-TA</text><text x="144.7" y="432.3" font-size="11.4" fill="#222" stroke="#222" stroke-width="0.15">kPa</text><text x="1.20" y="277.30" font-size="8.7" fill="#222" stroke="#333" stroke-width="0.05">M/Age</text><path d="M33.75,270.50 L27.25,274.00 L33.75,277.50" fill="none" stroke="#333" stroke-width="0.85"/><text x="35.65" y="277.30" font-size="8.7" fill="#222" stroke="#333" stroke-width="0.05">40</text><text x="45.30" y="284.00" font-size="4.9" text-anchor="end" fill="#333">(52)</text><text x="1.20" y="310.50" font-size="8.7" fill="#222" stroke="#333" stroke-width="0.05">M/Age</text><path d="M27.35,303.00 L33.45,305.50 L27.35,307.80" fill="none" stroke="#3a3a3a" stroke-width="0.7"/><path d="M27.15,309.00 H33.65 M27.15,310.50 H33.65" fill="none" stroke="#3a3a3a" stroke-width="0.7"/><text x="35.65" y="310.50" font-size="8.7" fill="#222" stroke="#333" stroke-width="0.05">40</text><text x="45.30" y="317.20" font-size="4.9" text-anchor="end" fill="#333">(33)</text><text x="1.20" y="343.50" font-size="8.7" fill="#222" stroke="#333" stroke-width="0.05">F/Age</text><path d="M30.85,336.70 L24.35,340.20 L30.85,343.70" fill="none" stroke="#333" stroke-width="0.85"/><text x="32.75" y="343.50" font-size="8.7" fill="#222" stroke="#333" stroke-width="0.05">40</text><text x="45.30" y="350.20" font-size="4.9" text-anchor="end" fill="#333">(48)</text><text x="1.20" y="376.90" font-size="8.7" fill="#222" stroke="#333" stroke-width="0.05">F/Age</text><path d="M24.45,369.40 L30.55,371.90 L24.45,374.20" fill="none" stroke="#3a3a3a" stroke-width="0.7"/><path d="M24.25,375.40 H30.75 M24.25,376.90 H30.75" fill="none" stroke="#3a3a3a" stroke-width="0.7"/><text x="32.75" y="376.90" font-size="8.7" fill="#222" stroke="#333" stroke-width="0.05">40</text><text x="45.30" y="383.60" font-size="4.9" text-anchor="end" fill="#333">(25)</text></g>
<g><rect x="294.90" y="241.60" width="59.60" height="166.60" fill="#e2f7ea"/><line x1="301.50" y1="241.60" x2="301.50" y2="408.20" stroke="#919b95" stroke-width="1.0"/><line x1="324.50" y1="241.60" x2="324.50" y2="408.20" stroke="#919b95" stroke-width="1.0"/><line x1="347.50" y1="241.60" x2="347.50" y2="408.20" stroke="#919b95" stroke-width="1.0"/><line x1="370.50" y1="241.60" x2="370.50" y2="408.20" stroke="#a6a6a6" stroke-width="1.0"/><line x1="393.50" y1="241.60" x2="393.50" y2="408.20" stroke="#a6a6a6" stroke-width="1.0"/><line x1="416.50" y1="241.60" x2="416.50" y2="408.20" stroke="#a6a6a6" stroke-width="1.0"/><rect x="278.50" y="241.50" width="161.00" height="166.70" fill="none" stroke="#a8a8a8" stroke-width="1.1"/><line x1="278.30" y1="275.50" x2="439.30" y2="275.50" stroke="#585b59" stroke-width="1"/><line x1="278.30" y1="308.50" x2="439.30" y2="308.50" stroke="#585b59" stroke-width="1"/><line x1="278.30" y1="341.50" x2="439.30" y2="341.50" stroke="#585b59" stroke-width="1"/><line x1="278.30" y1="374.50" x2="439.30" y2="374.50" stroke="#585b59" stroke-width="1"/><line x1="277.80" y1="408.20" x2="439.80" y2="408.20" stroke="#5a5a5a" stroke-width="1.15"/><line x1="278.30" y1="408.20" x2="278.30" y2="410.20" stroke="#777" stroke-width="0.8"/><line x1="301.30" y1="408.20" x2="301.30" y2="410.20" stroke="#777" stroke-width="0.8"/><line x1="324.30" y1="408.20" x2="324.30" y2="410.20" stroke="#777" stroke-width="0.8"/><line x1="347.30" y1="408.20" x2="347.30" y2="410.20" stroke="#777" stroke-width="0.8"/><line x1="370.30" y1="408.20" x2="370.30" y2="410.20" stroke="#777" stroke-width="0.8"/><line x1="393.30" y1="408.20" x2="393.30" y2="410.20" stroke="#777" stroke-width="0.8"/><line x1="416.30" y1="408.20" x2="416.30" y2="410.20" stroke="#777" stroke-width="0.8"/><line x1="439.30" y1="408.20" x2="439.30" y2="410.20" stroke="#777" stroke-width="0.8"/><text x="278.30" y="418.40" font-size="8" text-anchor="middle" fill="#333">0</text><text x="301.30" y="418.40" font-size="8" text-anchor="middle" fill="#333">200</text><text x="324.30" y="418.40" font-size="8" text-anchor="middle" fill="#333">400</text><text x="347.30" y="418.40" font-size="8" text-anchor="middle" fill="#333">600</text><text x="370.30" y="418.40" font-size="8" text-anchor="middle" fill="#333">800</text><text x="393.30" y="418.40" font-size="8" text-anchor="middle" fill="#333">1000</text><text x="439.30" y="418.40" font-size="8" text-anchor="middle" fill="#333">1400</text><rect x="310.20" y="268.90" width="21.50" height="12.40" fill="#daf5db" stroke="#7b887f" stroke-width="0.95"/><rect x="304.10" y="268.80" width="1.6" height="14.80" fill="#0000ff"/><circle cx="304.90" cy="269.40" r="1.3" fill="#0000ff"/><circle cx="304.90" cy="271.67" r="1.3" fill="#0000ff"/><circle cx="304.90" cy="273.93" r="1.3" fill="#0000ff"/><circle cx="304.90" cy="276.20" r="1.3" fill="#0000ff"/><circle cx="304.90" cy="278.47" r="1.3" fill="#0000ff"/><circle cx="304.90" cy="280.73" r="1.3" fill="#0000ff"/><circle cx="304.90" cy="283.00" r="1.3" fill="#0000ff"/><rect x="302.32" y="274.62" width="1.75" height="1.75" fill="#0000ff"/><rect x="302.32" y="276.53" width="1.75" height="1.75" fill="#0000ff"/><rect x="304.41" y="274.62" width="1.75" height="1.75" fill="#0000ff"/><rect x="304.41" y="276.53" width="1.75" height="1.75" fill="#0000ff"/><rect x="306.49" y="274.62" width="1.75" height="1.75" fill="#0000ff"/><rect x="306.49" y="276.53" width="1.75" height="1.75" fill="#0000ff"/><rect x="308.58" y="274.62" width="1.75" height="1.75" fill="#0000ff"/><rect x="308.58" y="276.53" width="1.75" height="1.75" fill="#0000ff"/><rect x="310.66" y="274.62" width="1.75" height="1.75" fill="#0000ff"/><rect x="310.66" y="276.53" width="1.75" height="1.75" fill="#0000ff"/><rect x="312.75" y="274.62" width="1.75" height="1.75" fill="#0000ff"/><rect x="312.75" y="276.53" width="1.75" height="1.75" fill="#0000ff"/><rect x="314.83" y="274.62" width="1.75" height="1.75" fill="#0000ff"/><rect x="314.83" y="276.53" width="1.75" height="1.75" fill="#0000ff"/><rect x="316.91" y="274.62" width="1.75" height="1.75" fill="#0000ff"/><rect x="316.91" y="276.53" width="1.75" height="1.75" fill="#0000ff"/><rect x="319.00" y="274.62" width="1.75" height="1.75" fill="#0000ff"/><rect x="319.00" y="276.53" width="1.75" height="1.75" fill="#0000ff"/><rect x="321.08" y="274.62" width="1.75" height="1.75" fill="#0000ff"/><rect x="321.08" y="276.53" width="1.75" height="1.75" fill="#0000ff"/><rect x="323.17" y="274.62" width="1.75" height="1.75" fill="#0000ff"/><rect x="323.17" y="276.53" width="1.75" height="1.75" fill="#0000ff"/><rect x="325.25" y="274.62" width="1.75" height="1.75" fill="#0000ff"/><rect x="325.25" y="276.53" width="1.75" height="1.75" fill="#0000ff"/><rect x="327.34" y="274.62" width="1.75" height="1.75" fill="#0000ff"/><rect x="327.34" y="276.53" width="1.75" height="1.75" fill="#0000ff"/><rect x="329.42" y="274.62" width="1.75" height="1.75" fill="#0000ff"/><rect x="329.42" y="276.53" width="1.75" height="1.75" fill="#0000ff"/><rect x="331.50" y="274.62" width="1.75" height="1.75" fill="#0000ff"/><rect x="331.50" y="276.53" width="1.75" height="1.75" fill="#0000ff"/><rect x="333.59" y="274.62" width="1.75" height="1.75" fill="#0000ff"/><rect x="333.59" y="276.53" width="1.75" height="1.75" fill="#0000ff"/><rect x="335.67" y="274.62" width="1.75" height="1.75" fill="#0000ff"/><rect x="335.67" y="276.53" width="1.75" height="1.75" fill="#0000ff"/><rect x="337.76" y="274.62" width="1.75" height="1.75" fill="#0000ff"/><rect x="337.76" y="276.53" width="1.75" height="1.75" fill="#0000ff"/><rect x="339.84" y="274.62" width="1.75" height="1.75" fill="#0000ff"/><rect x="339.84" y="276.53" width="1.75" height="1.75" fill="#0000ff"/><rect x="341.93" y="274.62" width="1.75" height="1.75" fill="#0000ff"/><rect x="341.93" y="276.53" width="1.75" height="1.75" fill="#0000ff"/><rect x="310.32" y="271.82" width="1.75" height="1.75" fill="#0000ff"/><rect x="312.47" y="271.82" width="1.75" height="1.75" fill="#0000ff"/><rect x="314.62" y="271.82" width="1.75" height="1.75" fill="#0000ff"/><rect x="316.76" y="271.82" width="1.75" height="1.75" fill="#0000ff"/><rect x="318.91" y="271.82" width="1.75" height="1.75" fill="#0000ff"/><rect x="321.05" y="271.82" width="1.75" height="1.75" fill="#0000ff"/><rect x="323.20" y="271.82" width="1.75" height="1.75" fill="#0000ff"/><rect x="325.34" y="271.82" width="1.75" height="1.75" fill="#0000ff"/><rect x="327.49" y="271.82" width="1.75" height="1.75" fill="#0000ff"/><rect x="329.63" y="271.82" width="1.75" height="1.75" fill="#0000ff"/><rect x="331.78" y="271.82" width="1.75" height="1.75" fill="#0000ff"/><rect x="333.93" y="271.82" width="1.75" height="1.75" fill="#0000ff"/><rect x="334.00" y="272.80" width="1.6" height="6.80" fill="#0000ff"/><circle cx="334.80" cy="273.40" r="1.3" fill="#0000ff"/><circle cx="334.80" cy="275.27" r="1.3" fill="#0000ff"/><circle cx="334.80" cy="277.13" r="1.3" fill="#0000ff"/><circle cx="334.80" cy="279.00" r="1.3" fill="#0000ff"/><circle cx="379.90" cy="275.10" r="1.45" fill="#0000ff"/><line x1="320.60" y1="264.50" x2="320.60" y2="285.80" stroke="#4f5450" stroke-width="1.35"/><rect x="321.60" y="302.50" width="16.80" height="11.60" fill="#daf5db" stroke="#7b887f" stroke-width="0.95"/><rect x="305.90" y="306.20" width="1.6" height="4.60" fill="#0000ff"/><circle cx="306.70" cy="306.80" r="1.3" fill="#0000ff"/><circle cx="306.70" cy="308.50" r="1.3" fill="#0000ff"/><circle cx="306.70" cy="310.20" r="1.3" fill="#0000ff"/><circle cx="311.40" cy="308.40" r="1.45" fill="#0000ff"/><circle cx="313.60" cy="308.40" r="1.45" fill="#0000ff"/><rect x="317.10" y="308.60" width="1.6" height="1.80" fill="#0000ff"/><circle cx="317.90" cy="309.20" r="1.3" fill="#0000ff"/><rect x="320.80" y="305.60" width="1.6" height="4.80" fill="#0000ff"/><circle cx="321.60" cy="306.20" r="1.3" fill="#0000ff"/><circle cx="321.60" cy="308.00" r="1.3" fill="#0000ff"/><circle cx="321.60" cy="309.80" r="1.3" fill="#0000ff"/><rect x="325.43" y="305.93" width="1.75" height="1.75" fill="#0000ff"/><rect x="325.43" y="307.79" width="1.75" height="1.75" fill="#0000ff"/><rect x="325.43" y="309.66" width="1.75" height="1.75" fill="#0000ff"/><rect x="325.43" y="311.53" width="1.75" height="1.75" fill="#0000ff"/><rect x="327.60" y="305.93" width="1.75" height="1.75" fill="#0000ff"/><rect x="327.60" y="307.79" width="1.75" height="1.75" fill="#0000ff"/><rect x="327.60" y="309.66" width="1.75" height="1.75" fill="#0000ff"/><rect x="327.60" y="311.53" width="1.75" height="1.75" fill="#0000ff"/><rect x="329.77" y="305.93" width="1.75" height="1.75" fill="#0000ff"/><rect x="329.77" y="307.79" width="1.75" height="1.75" fill="#0000ff"/><rect x="329.77" y="309.66" width="1.75" height="1.75" fill="#0000ff"/><rect x="329.77" y="311.53" width="1.75" height="1.75" fill="#0000ff"/><rect x="331.95" y="305.93" width="1.75" height="1.75" fill="#0000ff"/><rect x="331.95" y="307.79" width="1.75" height="1.75" fill="#0000ff"/><rect x="331.95" y="309.66" width="1.75" height="1.75" fill="#0000ff"/><rect x="331.95" y="311.53" width="1.75" height="1.75" fill="#0000ff"/><rect x="334.12" y="305.93" width="1.75" height="1.75" fill="#0000ff"/><rect x="334.12" y="307.79" width="1.75" height="1.75" fill="#0000ff"/><rect x="334.12" y="309.66" width="1.75" height="1.75" fill="#0000ff"/><rect x="334.12" y="311.53" width="1.75" height="1.75" fill="#0000ff"/><rect x="337.20" y="308.60" width="1.6" height="0.80" fill="#0000ff"/><circle cx="338.00" cy="309.20" r="1.3" fill="#0000ff"/><rect x="340.30" y="308.60" width="1.6" height="1.80" fill="#0000ff"/><circle cx="341.10" cy="309.20" r="1.3" fill="#0000ff"/><rect x="345.50" y="307.40" width="2.90" height="2.1" fill="#0000ff"/><circle cx="346.70" cy="308.60" r="1.2" fill="#0000ff"/><rect x="353.40" y="308.60" width="1.6" height="2.80" fill="#0000ff"/><circle cx="354.20" cy="309.20" r="1.3" fill="#0000ff"/><circle cx="354.20" cy="310.80" r="1.3" fill="#0000ff"/><circle cx="369.30" cy="308.40" r="1.45" fill="#0000ff"/><circle cx="373.50" cy="308.40" r="1.45" fill="#0000ff"/><line x1="331.30" y1="297.70" x2="331.30" y2="318.90" stroke="#4f5450" stroke-width="1.35"/><rect x="307.60" y="335.10" width="21.00" height="12.40" fill="#daf5db" stroke="#7b887f" stroke-width="0.95"/><rect x="291.20" y="340.70" width="5.30" height="2.1" fill="#ff0000"/><circle cx="292.40" cy="341.90" r="1.2" fill="#ff0000"/><circle cx="295.30" cy="341.90" r="1.2" fill="#ff0000"/><rect x="300.00" y="340.70" width="13.00" height="2.1" fill="#ff0000"/><circle cx="301.20" cy="341.90" r="1.2" fill="#ff0000"/><circle cx="303.85" cy="341.90" r="1.2" fill="#ff0000"/><circle cx="306.50" cy="341.90" r="1.2" fill="#ff0000"/><circle cx="309.15" cy="341.90" r="1.2" fill="#ff0000"/><circle cx="311.80" cy="341.90" r="1.2" fill="#ff0000"/><rect x="299.70" y="338.60" width="1.6" height="7.30" fill="#ff0000"/><circle cx="300.50" cy="339.20" r="1.3" fill="#ff0000"/><circle cx="300.50" cy="341.23" r="1.3" fill="#ff0000"/><circle cx="300.50" cy="343.27" r="1.3" fill="#ff0000"/><circle cx="300.50" cy="345.30" r="1.3" fill="#ff0000"/><rect x="302.20" y="340.60" width="1.6" height="3.80" fill="#ff0000"/><circle cx="303.00" cy="341.20" r="1.3" fill="#ff0000"/><circle cx="303.00" cy="343.80" r="1.3" fill="#ff0000"/><rect x="305.20" y="340.60" width="1.6" height="4.80" fill="#ff0000"/><circle cx="306.00" cy="341.20" r="1.3" fill="#ff0000"/><circle cx="306.00" cy="343.00" r="1.3" fill="#ff0000"/><circle cx="306.00" cy="344.80" r="1.3" fill="#ff0000"/><rect x="308.10" y="337.00" width="1.6" height="11.20" fill="#ff0000"/><circle cx="308.90" cy="337.60" r="1.3" fill="#ff0000"/><circle cx="308.90" cy="339.60" r="1.3" fill="#ff0000"/><circle cx="308.90" cy="341.60" r="1.3" fill="#ff0000"/><circle cx="308.90" cy="343.60" r="1.3" fill="#ff0000"/><circle cx="308.90" cy="345.60" r="1.3" fill="#ff0000"/><circle cx="308.90" cy="347.60" r="1.3" fill="#ff0000"/><rect x="310.40" y="338.60" width="1.6" height="7.80" fill="#ff0000"/><circle cx="311.20" cy="339.20" r="1.3" fill="#ff0000"/><circle cx="311.20" cy="341.40" r="1.3" fill="#ff0000"/><circle cx="311.20" cy="343.60" r="1.3" fill="#ff0000"/><circle cx="311.20" cy="345.80" r="1.3" fill="#ff0000"/><rect x="312.60" y="336.60" width="1.6" height="11.80" fill="#ff0000"/><circle cx="313.40" cy="337.20" r="1.3" fill="#ff0000"/><circle cx="313.40" cy="339.32" r="1.3" fill="#ff0000"/><circle cx="313.40" cy="341.44" r="1.3" fill="#ff0000"/><circle cx="313.40" cy="343.56" r="1.3" fill="#ff0000"/><circle cx="313.40" cy="345.68" r="1.3" fill="#ff0000"/><circle cx="313.40" cy="347.80" r="1.3" fill="#ff0000"/><rect x="314.70" y="338.60" width="1.6" height="6.80" fill="#ff0000"/><circle cx="315.50" cy="339.20" r="1.3" fill="#ff0000"/><circle cx="315.50" cy="341.07" r="1.3" fill="#ff0000"/><circle cx="315.50" cy="342.93" r="1.3" fill="#ff0000"/><circle cx="315.50" cy="344.80" r="1.3" fill="#ff0000"/><rect x="316.90" y="340.70" width="7.60" height="2.1" fill="#ff0000"/><circle cx="318.10" cy="341.90" r="1.2" fill="#ff0000"/><circle cx="320.70" cy="341.90" r="1.2" fill="#ff0000"/><circle cx="323.30" cy="341.90" r="1.2" fill="#ff0000"/><rect x="323.70" y="338.60" width="1.6" height="6.80" fill="#ff0000"/><circle cx="324.50" cy="339.20" r="1.3" fill="#ff0000"/><circle cx="324.50" cy="341.07" r="1.3" fill="#ff0000"/><circle cx="324.50" cy="342.93" r="1.3" fill="#ff0000"/><circle cx="324.50" cy="344.80" r="1.3" fill="#ff0000"/><rect x="328.32" y="339.32" width="1.75" height="1.75" fill="#ff0000"/><rect x="328.32" y="341.12" width="1.75" height="1.75" fill="#ff0000"/><rect x="328.32" y="342.93" width="1.75" height="1.75" fill="#ff0000"/><rect x="330.88" y="339.32" width="1.75" height="1.75" fill="#ff0000"/><rect x="330.88" y="341.12" width="1.75" height="1.75" fill="#ff0000"/><rect x="330.88" y="342.93" width="1.75" height="1.75" fill="#ff0000"/><rect x="333.43" y="339.32" width="1.75" height="1.75" fill="#ff0000"/><rect x="333.43" y="341.12" width="1.75" height="1.75" fill="#ff0000"/><rect x="333.43" y="342.93" width="1.75" height="1.75" fill="#ff0000"/><rect x="331.20" y="338.60" width="1.6" height="6.80" fill="#ff0000"/><circle cx="332.00" cy="339.20" r="1.3" fill="#ff0000"/><circle cx="332.00" cy="341.07" r="1.3" fill="#ff0000"/><circle cx="332.00" cy="342.93" r="1.3" fill="#ff0000"/><circle cx="332.00" cy="344.80" r="1.3" fill="#ff0000"/><rect x="334.20" y="338.60" width="1.6" height="6.80" fill="#ff0000"/><circle cx="335.00" cy="339.20" r="1.3" fill="#ff0000"/><circle cx="335.00" cy="341.07" r="1.3" fill="#ff0000"/><circle cx="335.00" cy="342.93" r="1.3" fill="#ff0000"/><circle cx="335.00" cy="344.80" r="1.3" fill="#ff0000"/><rect x="338.20" y="340.70" width="4.00" height="2.1" fill="#ff0000"/><circle cx="339.40" cy="341.90" r="1.2" fill="#ff0000"/><circle cx="341.00" cy="341.90" r="1.2" fill="#ff0000"/><circle cx="362.20" cy="341.70" r="1.45" fill="#ff0000"/><line x1="313.40" y1="331.10" x2="313.40" y2="352.40" stroke="#4f5450" stroke-width="1.35"/><rect x="300.10" y="368.50" width="29.20" height="12.70" fill="#daf5db" stroke="#7b887f" stroke-width="0.95"/><rect x="289.10" y="372.60" width="1.6" height="6.80" fill="#ff0000"/><circle cx="289.90" cy="373.20" r="1.3" fill="#ff0000"/><circle cx="289.90" cy="375.07" r="1.3" fill="#ff0000"/><circle cx="289.90" cy="376.93" r="1.3" fill="#ff0000"/><circle cx="289.90" cy="378.80" r="1.3" fill="#ff0000"/><rect x="295.30" y="372.60" width="1.6" height="6.80" fill="#ff0000"/><circle cx="296.10" cy="373.20" r="1.3" fill="#ff0000"/><circle cx="296.10" cy="375.07" r="1.3" fill="#ff0000"/><circle cx="296.10" cy="376.93" r="1.3" fill="#ff0000"/><circle cx="296.10" cy="378.80" r="1.3" fill="#ff0000"/><rect x="299.70" y="372.20" width="1.6" height="5.50" fill="#ff0000"/><circle cx="300.50" cy="372.80" r="1.3" fill="#ff0000"/><circle cx="300.50" cy="374.95" r="1.3" fill="#ff0000"/><circle cx="300.50" cy="377.10" r="1.3" fill="#ff0000"/><circle cx="303.00" cy="374.90" r="1.45" fill="#ff0000"/><circle cx="311.20" cy="374.90" r="1.45" fill="#ff0000"/><rect x="323.43" y="372.32" width="1.75" height="1.75" fill="#ff0000"/><rect x="323.43" y="374.12" width="1.75" height="1.75" fill="#ff0000"/><rect x="323.43" y="375.93" width="1.75" height="1.75" fill="#ff0000"/><rect x="325.29" y="372.32" width="1.75" height="1.75" fill="#ff0000"/><rect x="325.29" y="374.12" width="1.75" height="1.75" fill="#ff0000"/><rect x="325.29" y="375.93" width="1.75" height="1.75" fill="#ff0000"/><rect x="327.16" y="372.32" width="1.75" height="1.75" fill="#ff0000"/><rect x="327.16" y="374.12" width="1.75" height="1.75" fill="#ff0000"/><rect x="327.16" y="375.93" width="1.75" height="1.75" fill="#ff0000"/><rect x="329.03" y="372.32" width="1.75" height="1.75" fill="#ff0000"/><rect x="329.03" y="374.12" width="1.75" height="1.75" fill="#ff0000"/><rect x="329.03" y="375.93" width="1.75" height="1.75" fill="#ff0000"/><rect x="324.90" y="370.50" width="1.6" height="11.20" fill="#ff0000"/><circle cx="325.70" cy="371.10" r="1.3" fill="#ff0000"/><circle cx="325.70" cy="373.10" r="1.3" fill="#ff0000"/><circle cx="325.70" cy="375.10" r="1.3" fill="#ff0000"/><circle cx="325.70" cy="377.10" r="1.3" fill="#ff0000"/><circle cx="325.70" cy="379.10" r="1.3" fill="#ff0000"/><circle cx="325.70" cy="381.10" r="1.3" fill="#ff0000"/><rect x="331.10" y="373.90" width="3.50" height="2.1" fill="#ff0000"/><circle cx="332.30" cy="375.10" r="1.2" fill="#ff0000"/><rect x="336.10" y="372.70" width="1.6" height="6.30" fill="#ff0000"/><circle cx="336.90" cy="373.30" r="1.3" fill="#ff0000"/><circle cx="336.90" cy="375.85" r="1.3" fill="#ff0000"/><circle cx="336.90" cy="378.40" r="1.3" fill="#ff0000"/><line x1="325.30" y1="364.40" x2="325.30" y2="385.40" stroke="#4f5450" stroke-width="1.35"/><text x="292.2" y="235.4" font-size="11.9" fill="#1a1a1a" stroke="#1a1a1a" stroke-width="0.22">SDRsex=0.31</text><text x="363.8" y="235.4" font-size="11.9" fill="#1a1a1a" stroke="#1a1a1a" stroke-width="0.22">SDRage=0.33</text><text x="328.9" y="432.1" font-size="11.4" fill="#222" stroke="#222" stroke-width="0.15">PPT-TL</text><text x="375.1" y="432.1" font-size="11.4" fill="#222" stroke="#222" stroke-width="0.15">kPa</text><text x="231.50" y="277.10" font-size="8.7" fill="#222" stroke="#333" stroke-width="0.05">M/Age</text><path d="M264.05,270.30 L257.55,273.80 L264.05,277.30" fill="none" stroke="#333" stroke-width="0.85"/><text x="265.95" y="277.10" font-size="8.7" fill="#222" stroke="#333" stroke-width="0.05">40</text><text x="276.40" y="283.80" font-size="4.9" text-anchor="end" fill="#333">(52)</text><text x="231.50" y="310.40" font-size="8.7" fill="#222" stroke="#333" stroke-width="0.05">M/Age</text><path d="M257.65,302.90 L263.75,305.40 L257.65,307.70" fill="none" stroke="#3a3a3a" stroke-width="0.7"/><path d="M257.45,308.90 H263.95 M257.45,310.40 H263.95" fill="none" stroke="#3a3a3a" stroke-width="0.7"/><text x="265.95" y="310.40" font-size="8.7" fill="#222" stroke="#333" stroke-width="0.05">40</text><text x="276.40" y="317.10" font-size="4.9" text-anchor="end" fill="#333">(33)</text><text x="231.50" y="343.70" font-size="8.7" fill="#222" stroke="#333" stroke-width="0.05">F/Age</text><path d="M261.15,336.90 L254.65,340.40 L261.15,343.90" fill="none" stroke="#333" stroke-width="0.85"/><text x="263.05" y="343.70" font-size="8.7" fill="#222" stroke="#333" stroke-width="0.05">40</text><text x="276.40" y="350.40" font-size="4.9" text-anchor="end" fill="#333">(48)</text><text x="231.50" y="376.90" font-size="8.7" fill="#222" stroke="#333" stroke-width="0.05">F/Age</text><path d="M254.75,369.40 L260.85,371.90 L254.75,374.20" fill="none" stroke="#3a3a3a" stroke-width="0.7"/><path d="M254.55,375.40 H261.05 M254.55,376.90 H261.05" fill="none" stroke="#3a3a3a" stroke-width="0.7"/><text x="263.05" y="376.90" font-size="8.7" fill="#222" stroke="#333" stroke-width="0.05">40</text><text x="276.40" y="383.60" font-size="4.9" text-anchor="end" fill="#333">(25)</text></g>
</svg>
</body></html>
